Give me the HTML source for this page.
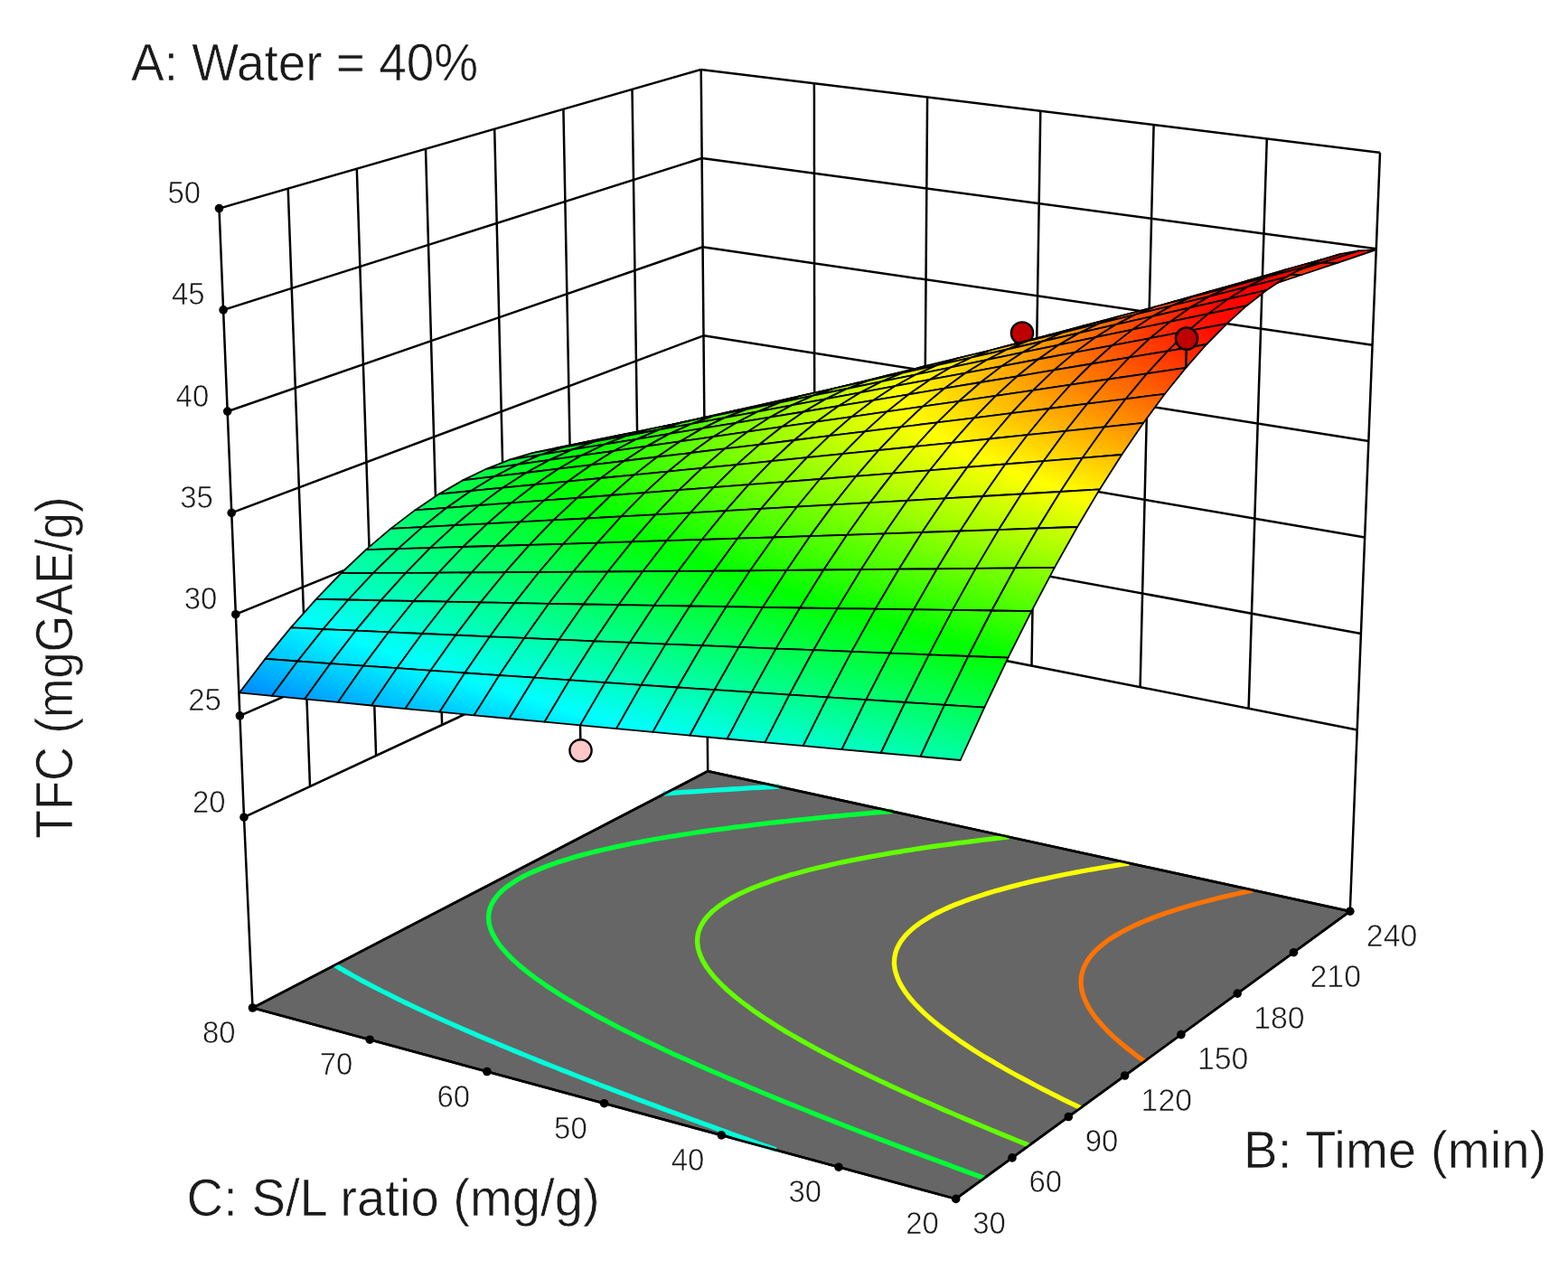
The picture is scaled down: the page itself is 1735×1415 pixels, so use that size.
<!DOCTYPE html>
<html lang="en"><head><meta charset="utf-8"><title>TFC response surface</title>
<style>html,body{margin:0;padding:0;background:#fff}body{width:1735px;height:1415px;overflow:hidden}svg{display:block}</style>
</head><body>
<svg width="1735" height="1415" viewBox="0 0 1735 1415">
<rect width="1735" height="1415" fill="#fff"/>
<g stroke-linecap="butt" fill="none">
<line x1="270" y1="904.2" x2="781.3" y2="665.7" stroke="#000" stroke-width="2.5"/>
<line x1="265.4" y1="791.9" x2="780.4" y2="567.6" stroke="#000" stroke-width="2.5"/>
<line x1="260.8" y1="679.7" x2="779.4" y2="469.4" stroke="#000" stroke-width="2.5"/>
<line x1="256.2" y1="567.4" x2="778.5" y2="371.3" stroke="#000" stroke-width="2.5"/>
<line x1="251.7" y1="455.1" x2="777.6" y2="273.2" stroke="#000" stroke-width="2.5"/>
<line x1="247.1" y1="342.9" x2="776.6" y2="175" stroke="#000" stroke-width="2.5"/>
<line x1="242.5" y1="230.6" x2="775.7" y2="76.9" stroke="#000" stroke-width="2.5"/>
<line x1="270" y1="904.2" x2="242.5" y2="230.6" stroke="#000" stroke-width="2.5"/>
<line x1="343" y1="870.1" x2="318.7" y2="208.6" stroke="#000" stroke-width="2.5"/>
<line x1="416.1" y1="836.1" x2="394.8" y2="186.7" stroke="#000" stroke-width="2.5"/>
<line x1="489.1" y1="802" x2="471" y2="164.7" stroke="#000" stroke-width="2.5"/>
<line x1="562.2" y1="767.9" x2="547.2" y2="142.8" stroke="#000" stroke-width="2.5"/>
<line x1="635.2" y1="733.8" x2="623.4" y2="120.8" stroke="#000" stroke-width="2.5"/>
<line x1="708.3" y1="699.8" x2="699.5" y2="98.9" stroke="#000" stroke-width="2.5"/>
<line x1="781.3" y1="665.7" x2="775.7" y2="76.9" stroke="#000" stroke-width="2.5"/>
<line x1="781.3" y1="665.7" x2="1501.7" y2="807.4" stroke="#000" stroke-width="2.5"/>
<line x1="780.4" y1="567.6" x2="1505.9" y2="701" stroke="#000" stroke-width="2.5"/>
<line x1="779.4" y1="469.4" x2="1510.1" y2="594.5" stroke="#000" stroke-width="2.5"/>
<line x1="778.5" y1="371.3" x2="1514.3" y2="488.1" stroke="#000" stroke-width="2.5"/>
<line x1="777.6" y1="273.2" x2="1518.6" y2="381.7" stroke="#000" stroke-width="2.5"/>
<line x1="776.6" y1="175" x2="1522.8" y2="275.2" stroke="#000" stroke-width="2.5"/>
<line x1="775.7" y1="76.9" x2="1527" y2="168.8" stroke="#000" stroke-width="2.5"/>
<line x1="901.4" y1="689.3" x2="900.9" y2="92.2" stroke="#000" stroke-width="2.5"/>
<line x1="1021.4" y1="712.9" x2="1026.1" y2="107.5" stroke="#000" stroke-width="2.5"/>
<line x1="1141.5" y1="736.5" x2="1151.3" y2="122.9" stroke="#000" stroke-width="2.5"/>
<line x1="1261.6" y1="760.2" x2="1276.6" y2="138.2" stroke="#000" stroke-width="2.5"/>
<line x1="1381.6" y1="783.8" x2="1401.8" y2="153.5" stroke="#000" stroke-width="2.5"/>
<line x1="1501.7" y1="807.4" x2="1527" y2="168.8" stroke="#000" stroke-width="2.5"/>
<line x1="270" y1="904.2" x2="279.5" y2="1115" stroke="#000" stroke-width="2.5"/>
<line x1="781.3" y1="665.7" x2="783.2" y2="853.2" stroke="#000" stroke-width="2.5"/>
<line x1="1501.7" y1="807.4" x2="1493.8" y2="1008.2" stroke="#000" stroke-width="2.5"/>
</g>
<polygon points="279.5,1115 1057.7,1326.4 1493.8,1008.2 783.2,853.2" fill="#666666" stroke="#000" stroke-width="2.6" stroke-linejoin="miter"/>
<g fill="none" stroke-width="5.3" stroke-linecap="butt">
<polyline stroke="#00ffda" points="370.7,1068 376.5,1071.4 379.9,1073.4 385.2,1076.4 389.4,1078.8 394.4,1081.5 399,1084.1 404.2,1086.9 408.9,1089.3 414.7,1092.3 418.9,1094.5 425.7,1098 429.2,1099.7 436.1,1103.2 439.5,1104.9 446.6,1108.3 450.1,1110 457.2,1113.4 463.4,1116.3 468,1118.4 475.3,1121.8 478.9,1123.5 486.3,1126.8 492.4,1129.6 497.5,1131.9 505,1135.2 508.8,1136.9 516.4,1140.2 524,1143.5 527.9,1145.2 535.6,1148.5 542.8,1151.5 547.3,1153.4 555.2,1156.7 561.6,1159.4 567.1,1161.7 575.1,1165 581.6,1167.6 587.1,1169.9 595.3,1173.2 602.7,1176.2 607.5,1178.1 615.7,1181.4 624,1184.7 628.2,1186.3 636.5,1189.6 644.9,1192.9 649.1,1194.5 657.5,1197.8 666,1201.1 673.7,1204 678.8,1206 687.4,1209.3 696.1,1212.5 700.4,1214.2 709.1,1217.5 717.9,1220.7 726.7,1224 731.1,1225.7 739.9,1229 748.8,1232.3 757.7,1235.6 762.2,1237.2 771.2,1240.5 780.2,1243.8 789.3,1247.1 793.9,1248.8 803,1252.1 812.2,1255.4 821.4,1258.7 826,1260.3 835.2,1263.7 844.5,1267 853.9,1270.3 858.7,1272 858.7,1272"/>
<polyline stroke="#00ffda" points="733.8,878.1 740.6,877.6 747.4,877.2 754.2,876.7 761,876.2 767.7,875.8 774.4,875.3 781.6,874.8 788.8,874.4 796,873.9 803.3,873.5 810.6,873 817.9,872.6 825.2,872.1 832.6,871.7 840,871.3 847.3,870.8 853.8,870.5 860.4,870.1 862.2,870"/>
<polyline stroke="#00ff37" points="987.4,897.5 980.5,898.1 973.7,898.7 966.8,899.2 960,899.8 953.1,900.4 946,901.1 938.9,901.7 931.8,902.3 924.7,903 917.5,903.7 910.3,904.4 903.1,905.1 895.8,905.8 888.5,906.6 881.1,907.3 873.8,908.1 867.4,908.8 861,909.5 854.7,910.2 848.3,910.9 842,911.7 835.8,912.4 828.5,913.3 820.7,914.3 812.9,915.2 805,916.3 799,917.1 793,917.9 787,918.7 781,919.5 772.8,920.7 764.5,922 757.9,923 752.2,923.9 746.5,924.8 738.8,926 730,927.5 724.3,928.5 718.9,929.5 711.8,930.8 702.9,932.5 697.7,933.5 692.5,934.6 682.7,936.6 677.4,937.8 672.2,939 662.8,941.2 658,942.3 649.7,944.5 644.1,945.9 637,947.9 630.9,949.7 622.8,952.2 618.3,953.6 610.3,956.4 605,958.3 598.9,960.7 591.8,963.7 585,966.7 578.6,969.9 572.6,973.3 567.1,976.7 562,980.2 559,982.5 555.2,985.8 551.3,989.7 549.6,991.8 546.8,995.6 545.3,998 544,1000.4 542.3,1004.6 541.6,1007 541.1,1009.4 540.7,1012.2 540.6,1015.6 540.8,1018.9 541.3,1021.9 541.9,1024.6 542.8,1027.3 543.8,1030.1 545.1,1033 546.6,1035.9 548.3,1038.9 550,1041.4 551.7,1044 553.6,1046.5 555.5,1048.9 557.9,1051.6 560.9,1055 564.2,1058.3 566.5,1060.6 568.9,1062.9 571.9,1065.6 576.2,1069.4 579,1071.7 581.7,1073.8 585.8,1077.1 589.9,1080.2 592.7,1082.3 596.8,1085.2 601.5,1088.4 604.4,1090.5 609.4,1093.8 613.6,1096.5 616.7,1098.5 623,1102.4 626.2,1104.4 631.5,1107.6 636,1110.2 639.8,1112.5 646,1116 649.4,1117.9 656.2,1121.7 659.7,1123.6 666.7,1127.3 670.2,1129.2 677.3,1132.9 680.9,1134.8 688.1,1138.5 691.8,1140.3 699.1,1144 702.8,1145.8 710.3,1149.5 714,1151.3 721.6,1154.9 725.7,1156.9 733.1,1160.4 739.3,1163.3 744.7,1165.8 752.5,1169.3 756.5,1171.1 764.4,1174.7 768.6,1176.6 776.4,1180.1 784.5,1183.6 788.5,1185.4 796.7,1188.9 801.2,1190.9 809,1194.2 817.3,1197.8 821.5,1199.5 829.9,1203.1 837.2,1206.1 842.5,1208.4 851,1211.9 856.6,1214.2 863.9,1217.2 872.5,1220.7 877.1,1222.5 885.6,1225.9 894.3,1229.4 898.7,1231.2 907.5,1234.7 916.4,1238.2 921.2,1240.1 929.8,1243.5 938.8,1247 945,1249.4 952.4,1252.2 961.5,1255.7 970.1,1259 975.3,1261 984.5,1264.5 993.8,1268 998.4,1269.8 1007.8,1273.3 1017.1,1276.8 1024.3,1279.5 1031.3,1282.1 1040.8,1285.6 1050.3,1289.1 1055.1,1290.9 1064.7,1294.4 1074.3,1298 1084,1301.5 1088.9,1303.3 1088.9,1303.3"/>
<polyline stroke="#62ff00" points="1116.3,925.9 1109.9,926.6 1103.6,927.3 1097.4,928.1 1090.3,928.9 1082.7,929.8 1075,930.8 1067.3,931.8 1060.5,932.7 1054.4,933.5 1048.4,934.3 1042.5,935.1 1035.9,936 1027.9,937.2 1019.8,938.4 1013.2,939.4 1007.5,940.3 1001.8,941.2 995,942.3 986.5,943.7 979.5,944.9 974,945.8 968.6,946.8 960.2,948.3 952.6,949.8 947.3,950.8 941.9,951.9 932.3,953.9 926.8,955 921.8,956.1 912.5,958.3 907.2,959.5 902,960.8 893.1,963 888.5,964.2 879.5,966.7 875.1,967.9 866.6,970.5 862.3,971.8 854.1,974.5 850.1,975.9 842.3,978.7 834.9,981.6 831.3,983 824.3,986.1 817.7,989.2 811.5,992.4 805.6,995.8 800.1,999.2 795,1002.8 790.4,1006.5 788.2,1008.3 784.3,1012.2 781.1,1015.8 779.2,1018.3 777,1021.8 775.4,1024.7 774.4,1027 772.8,1031.4 772.3,1033.8 771.9,1036.2 771.6,1039.6 771.7,1043.3 772,1046.2 772.4,1048.8 773.1,1051.5 773.9,1054.2 774.9,1057 776.2,1059.8 777.6,1062.7 779.3,1065.7 781.1,1068.7 783.2,1071.8 785.6,1075 788.1,1078.2 790.9,1081.5 793.3,1084 795.6,1086.5 798.1,1089 801,1091.8 804.9,1095.4 808.5,1098.5 811.2,1100.9 814,1103.2 818.4,1106.7 822.7,1110 825.7,1112.2 829,1114.7 834.8,1118.8 838,1121 841.2,1123.2 847.4,1127.4 850.9,1129.6 854.3,1131.8 860.9,1135.9 864.3,1138 869.3,1141.1 874.7,1144.2 878.2,1146.3 885.3,1150.4 888.9,1152.4 895.1,1155.8 899.8,1158.4 904.6,1161 910.9,1164.4 914.7,1166.4 922.3,1170.4 926.1,1172.3 933.8,1176.2 937.6,1178.2 945.5,1182.1 949.4,1184 957.3,1187.9 961.3,1189.8 969.3,1193.7 973.4,1195.6 981.5,1199.4 986.1,1201.6 993.9,1205.2 1000.2,1208.1 1006.3,1210.9 1014.7,1214.7 1019,1216.6 1027.5,1220.3 1031.7,1222.2 1040.3,1226 1046.5,1228.7 1053.3,1231.6 1062.1,1235.4 1066.5,1237.3 1075.3,1241 1081.2,1243.5 1088.6,1246.6 1097.6,1250.4 1102.1,1252.2 1111.1,1256 1119.3,1259.3 1124.8,1261.6 1134,1265.3 1138.6,1267.2"/>
<polyline stroke="#f8ff00" points="1249.3,955.1 1243.6,956 1237.9,956.9 1232.2,957.8 1224.5,959.1 1216.2,960.5 1210,961.6 1204.6,962.5 1199.1,963.5 1190.4,965.1 1183.2,966.5 1178,967.5 1172.6,968.6 1163.4,970.5 1157.6,971.8 1152.6,972.8 1144.4,974.7 1137.9,976.2 1133.1,977.3 1124.2,979.6 1119.1,980.9 1113.5,982.4 1105.5,984.6 1101.1,985.8 1092.5,988.4 1088.3,989.7 1080.1,992.4 1076.1,993.7 1068.3,996.5 1061.9,998.9 1057.1,1000.8 1050,1003.8 1043.2,1006.9 1039.9,1008.5 1033.6,1011.7 1027.7,1015 1022.1,1018.4 1016.9,1021.9 1012.1,1025.5 1009.8,1027.4 1005.6,1031.2 1001.8,1035.1 1000,1037.3 997,1041.2 995.1,1044.3 993.4,1047.6 992.3,1050 990.8,1054.4 990.3,1056.7 989.8,1059.6 989.5,1063.9 989.5,1066.5 989.8,1069 990.1,1071.7 990.9,1075.3 992,1078.7 993.2,1082.1 994.6,1085.3 996,1088.2 997.7,1091.1 999.5,1094.1 1001.6,1097.2 1003.8,1100.3 1006.1,1103.3 1008.4,1106.1 1010.8,1108.8 1013.3,1111.5 1015.9,1114.2 1018.6,1116.9 1022.3,1120.5 1026.3,1124.1 1029.6,1127 1032.5,1129.5 1035.5,1131.9 1039.8,1135.3 1044.8,1139.2 1047.9,1141.5 1051.1,1143.9 1056,1147.3 1061,1150.9 1064.4,1153.2 1068.3,1155.8 1074.7,1160 1078.2,1162.2 1082.1,1164.7 1088.9,1168.9 1092.6,1171.1 1097.4,1173.9 1103.6,1177.6 1107.4,1179.8 1114.2,1183.7 1118.7,1186.2 1123.2,1188.7 1130.4,1192.6 1134.3,1194.7 1142.2,1198.9 1146.2,1201 1153.1,1204.6 1158.2,1207.2 1163.9,1210.1 1170.5,1213.4 1175.3,1215.8 1183,1219.6 1187.3,1221.7 1195.6,1225.7 1195.6,1225.7"/>
<polyline stroke="#ff7300" points="1385.9,985.1 1380.8,986.2 1373.1,987.8 1365.8,989.5 1360.9,990.6 1354.4,992.1 1346.5,994 1341.8,995.2 1334.7,997 1328,998.8 1323.5,1000 1314.7,1002.5 1310.4,1003.8 1302.1,1006.3 1297.8,1007.7 1289.8,1010.3 1285.7,1011.8 1278,1014.6 1274.2,1016 1266.9,1018.9 1260.1,1021.8 1256.4,1023.4 1249.8,1026.6 1243.5,1029.8 1237.6,1033.1 1231.9,1036.4 1229.2,1038.2 1225.9,1040.4 1221.7,1043.5 1217.2,1047.2 1213,1051 1209.3,1054.9 1207.3,1057.3 1204.4,1061 1201.8,1065.2 1200.7,1067.4 1198.8,1071.7 1198,1074.1 1197.1,1077.3 1196.4,1081.1 1196.2,1083.5 1196.1,1086.8 1196.3,1091 1196.7,1093.6 1197.2,1096.2 1197.9,1099 1199.1,1102.7 1200.6,1106.3 1202.2,1109.8 1203.8,1112.9 1205.5,1115.9 1207.4,1118.9 1209.5,1122 1211.8,1125.1 1214.3,1128.3 1217.1,1131.5 1219.9,1134.7 1222.6,1137.5 1225.3,1140.3 1228.1,1143.1 1231,1145.9 1234.1,1148.7 1238.2,1152.3 1242.6,1156 1246.4,1159.1 1249.6,1161.7 1252.9,1164.2 1257.3,1167.6 1262.8,1171.6 1266.5,1174.2 1266.5,1174.2"/>
</g>
<polygon points="279.5,1115 1057.7,1326.4 1493.8,1008.2 783.2,853.2" fill="none" stroke="#000" stroke-width="2.6"/>
<line x1="1131" y1="368.5" x2="1130.4" y2="407.5" stroke="#000" stroke-width="2.5"/><circle cx="1131" cy="368.5" r="12.1" fill="#be0000" stroke="#000" stroke-width="2.4"/>
<line x1="642.5" y1="830.3" x2="642" y2="802.4" stroke="#000" stroke-width="2.5"/><circle cx="642.5" cy="830.3" r="12.1" fill="#ffc8c8" stroke="#000" stroke-width="2.4"/>
<defs><linearGradient id="g0" gradientUnits="userSpaceOnUse" x1="785.8" y1="522.9" x2="785" y2="502.6"><stop offset="0%" stop-color="#00c0ff"/><stop offset="70.8%" stop-color="#00ffff"/><stop offset="100%" stop-color="#00ffe5"/></linearGradient><linearGradient id="g1" gradientUnits="userSpaceOnUse" x1="819.4" y1="511.9" x2="818.6" y2="492.1"><stop offset="0%" stop-color="#00eaff"/><stop offset="24.3%" stop-color="#00ffff"/><stop offset="100%" stop-color="#00ffbc"/></linearGradient><linearGradient id="g2" gradientUnits="userSpaceOnUse" x1="763.1" y1="512.5" x2="762.2" y2="494.9"><stop offset="0%" stop-color="#00f1ff"/><stop offset="17.2%" stop-color="#00ffff"/><stop offset="100%" stop-color="#00ffbb"/></linearGradient><linearGradient id="g3" gradientUnits="userSpaceOnUse" x1="853.4" y1="500.8" x2="852.5" y2="481.4"><stop offset="0%" stop-color="#00ffea"/><stop offset="100%" stop-color="#00ff94"/></linearGradient><linearGradient id="g4" gradientUnits="userSpaceOnUse" x1="796.9" y1="502" x2="795.9" y2="484.9"><stop offset="0%" stop-color="#00ffe5"/><stop offset="100%" stop-color="#00ff94"/></linearGradient><linearGradient id="g5" gradientUnits="userSpaceOnUse" x1="740" y1="504.2" x2="739" y2="489.3"><stop offset="0%" stop-color="#00ffe1"/><stop offset="100%" stop-color="#00ff96"/></linearGradient><linearGradient id="g6" gradientUnits="userSpaceOnUse" x1="887.8" y1="489.5" x2="886.8" y2="470.6"><stop offset="0%" stop-color="#00ffc0"/><stop offset="100%" stop-color="#00ff6b"/></linearGradient><linearGradient id="g7" gradientUnits="userSpaceOnUse" x1="831" y1="491.4" x2="830" y2="474.8"><stop offset="0%" stop-color="#00ffbc"/><stop offset="100%" stop-color="#00ff6d"/></linearGradient><linearGradient id="g8" gradientUnits="userSpaceOnUse" x1="773.9" y1="494.2" x2="772.9" y2="479.9"><stop offset="0%" stop-color="#00ffbb"/><stop offset="100%" stop-color="#00ff71"/></linearGradient><linearGradient id="g9" gradientUnits="userSpaceOnUse" x1="922.6" y1="478.1" x2="921.5" y2="459.7"><stop offset="0%" stop-color="#00ff96"/><stop offset="100%" stop-color="#00ff43"/></linearGradient><linearGradient id="g10" gradientUnits="userSpaceOnUse" x1="716.5" y1="497.9" x2="715.6" y2="486"><stop offset="0%" stop-color="#00ffbb"/><stop offset="100%" stop-color="#00ff77"/></linearGradient><linearGradient id="g11" gradientUnits="userSpaceOnUse" x1="865.6" y1="480.6" x2="864.5" y2="464.5"><stop offset="0%" stop-color="#00ff94"/><stop offset="100%" stop-color="#00ff46"/></linearGradient><linearGradient id="g12" gradientUnits="userSpaceOnUse" x1="808.2" y1="484.1" x2="807.2" y2="470.3"><stop offset="0%" stop-color="#00ff94"/><stop offset="100%" stop-color="#00ff4b"/></linearGradient><linearGradient id="g13" gradientUnits="userSpaceOnUse" x1="957.7" y1="466.6" x2="956.6" y2="448.6"><stop offset="0%" stop-color="#00ff6c"/><stop offset="100%" stop-color="#00ff1a"/></linearGradient><linearGradient id="g14" gradientUnits="userSpaceOnUse" x1="750.6" y1="488.4" x2="749.6" y2="477.1"><stop offset="0%" stop-color="#00ff96"/><stop offset="100%" stop-color="#00ff53"/></linearGradient><linearGradient id="g15" gradientUnits="userSpaceOnUse" x1="900.5" y1="469.7" x2="899.3" y2="454.2"><stop offset="0%" stop-color="#00ff6b"/><stop offset="100%" stop-color="#00ff1f"/></linearGradient><linearGradient id="g16" gradientUnits="userSpaceOnUse" x1="692.7" y1="493.8" x2="691.8" y2="484.8"><stop offset="0%" stop-color="#00ff9a"/><stop offset="100%" stop-color="#00ff5d"/></linearGradient><linearGradient id="g17" gradientUnits="userSpaceOnUse" x1="842.9" y1="473.8" x2="841.8" y2="460.7"><stop offset="0%" stop-color="#00ff6d"/><stop offset="100%" stop-color="#00ff26"/></linearGradient><linearGradient id="g18" gradientUnits="userSpaceOnUse" x1="993.2" y1="454.9" x2="992" y2="437.5"><stop offset="0%" stop-color="#00ff41"/><stop offset="81.6%" stop-color="#00ff00"/><stop offset="100%" stop-color="#0fff00"/></linearGradient><linearGradient id="g19" gradientUnits="userSpaceOnUse" x1="785.1" y1="478.9" x2="784.1" y2="468.2"><stop offset="0%" stop-color="#00ff71"/><stop offset="100%" stop-color="#00ff2f"/></linearGradient><linearGradient id="g20" gradientUnits="userSpaceOnUse" x1="935.7" y1="458.7" x2="934.6" y2="443.7"><stop offset="0%" stop-color="#00ff43"/><stop offset="89%" stop-color="#00ff00"/><stop offset="100%" stop-color="#08ff00"/></linearGradient><linearGradient id="g21" gradientUnits="userSpaceOnUse" x1="726.9" y1="484.9" x2="726" y2="476.6"><stop offset="0%" stop-color="#00ff77"/><stop offset="100%" stop-color="#00ff3b"/></linearGradient><linearGradient id="g22" gradientUnits="userSpaceOnUse" x1="878" y1="463.5" x2="876.8" y2="450.9"><stop offset="0%" stop-color="#00ff46"/><stop offset="100%" stop-color="#00ff01"/></linearGradient><linearGradient id="g23" gradientUnits="userSpaceOnUse" x1="1029.1" y1="443" x2="1027.9" y2="426.2"><stop offset="0%" stop-color="#00ff17"/><stop offset="29.5%" stop-color="#00ff00"/><stop offset="100%" stop-color="#38ff00"/></linearGradient><linearGradient id="g24" gradientUnits="userSpaceOnUse" x1="668.5" y1="491.8" x2="667.8" y2="486"><stop offset="0%" stop-color="#00ff7f"/><stop offset="100%" stop-color="#00ff49"/></linearGradient><linearGradient id="g25" gradientUnits="userSpaceOnUse" x1="819.9" y1="469.2" x2="818.9" y2="459.1"><stop offset="0%" stop-color="#00ff4b"/><stop offset="100%" stop-color="#00ff0c"/></linearGradient><linearGradient id="g26" gradientUnits="userSpaceOnUse" x1="971.4" y1="447.5" x2="970.2" y2="433.1"><stop offset="0%" stop-color="#00ff1a"/><stop offset="35.3%" stop-color="#00ff00"/><stop offset="100%" stop-color="#2fff00"/></linearGradient><linearGradient id="g27" gradientUnits="userSpaceOnUse" x1="761.5" y1="475.9" x2="760.6" y2="468.3"><stop offset="0%" stop-color="#00ff53"/><stop offset="100%" stop-color="#00ff19"/></linearGradient><linearGradient id="g28" gradientUnits="userSpaceOnUse" x1="913.4" y1="453" x2="912.2" y2="441"><stop offset="0%" stop-color="#00ff1f"/><stop offset="45.5%" stop-color="#00ff00"/><stop offset="100%" stop-color="#25ff00"/></linearGradient><linearGradient id="g29" gradientUnits="userSpaceOnUse" x1="1065.4" y1="431" x2="1064.1" y2="414.7"><stop offset="0%" stop-color="#13ff00"/><stop offset="100%" stop-color="#60ff00"/></linearGradient><linearGradient id="g30" gradientUnits="userSpaceOnUse" x1="702.8" y1="483.5" x2="702.1" y2="478.4"><stop offset="0%" stop-color="#00ff5d"/><stop offset="100%" stop-color="#00ff28"/></linearGradient><linearGradient id="g31" gradientUnits="userSpaceOnUse" x1="855.1" y1="459.4" x2="854" y2="449.9"><stop offset="0%" stop-color="#00ff26"/><stop offset="61%" stop-color="#00ff00"/><stop offset="100%" stop-color="#18ff00"/></linearGradient><linearGradient id="g32" gradientUnits="userSpaceOnUse" x1="1007.5" y1="436.2" x2="1006.2" y2="422.4"><stop offset="0%" stop-color="#0fff00"/><stop offset="100%" stop-color="#56ff00"/></linearGradient><linearGradient id="g33" gradientUnits="userSpaceOnUse" x1="643.9" y1="492.2" x2="643.5" y2="489.6"><stop offset="0%" stop-color="#00ff69"/><stop offset="100%" stop-color="#00ff3a"/></linearGradient><linearGradient id="g34" gradientUnits="userSpaceOnUse" x1="796.5" y1="466.8" x2="795.6" y2="459.8"><stop offset="0%" stop-color="#00ff2f"/><stop offset="83.4%" stop-color="#00ff00"/><stop offset="100%" stop-color="#09ff00"/></linearGradient><linearGradient id="g35" gradientUnits="userSpaceOnUse" x1="949.2" y1="442.3" x2="948" y2="431"><stop offset="0%" stop-color="#08ff00"/><stop offset="100%" stop-color="#4aff00"/></linearGradient><linearGradient id="g36" gradientUnits="userSpaceOnUse" x1="1102.1" y1="418.9" x2="1100.8" y2="403.1"><stop offset="0%" stop-color="#3dff00"/><stop offset="100%" stop-color="#89ff00"/></linearGradient><linearGradient id="g37" gradientUnits="userSpaceOnUse" x1="737.6" y1="475.1" x2="736.9" y2="470.7"><stop offset="0%" stop-color="#00ff3b"/><stop offset="100%" stop-color="#00ff08"/></linearGradient><linearGradient id="g38" gradientUnits="userSpaceOnUse" x1="890.7" y1="449.5" x2="889.6" y2="440.7"><stop offset="0%" stop-color="#00ff01"/><stop offset="0.9%" stop-color="#00ff00"/><stop offset="100%" stop-color="#3cff00"/></linearGradient><linearGradient id="g39" gradientUnits="userSpaceOnUse" x1="1043.9" y1="424.7" x2="1042.6" y2="411.5"><stop offset="0%" stop-color="#38ff00"/><stop offset="100%" stop-color="#7eff00"/></linearGradient><linearGradient id="g40" gradientUnits="userSpaceOnUse" x1="678.3" y1="484.5" x2="678" y2="482.6"><stop offset="0%" stop-color="#00ff49"/><stop offset="100%" stop-color="#00ff1b"/></linearGradient><linearGradient id="g41" gradientUnits="userSpaceOnUse" x1="831.8" y1="457.5" x2="830.9" y2="451.3"><stop offset="0%" stop-color="#00ff0c"/><stop offset="20.9%" stop-color="#00ff00"/><stop offset="100%" stop-color="#2cff00"/></linearGradient><linearGradient id="g42" gradientUnits="userSpaceOnUse" x1="985.4" y1="431.6" x2="984.2" y2="420.9"><stop offset="0%" stop-color="#2fff00"/><stop offset="100%" stop-color="#70ff00"/></linearGradient><linearGradient id="g43" gradientUnits="userSpaceOnUse" x1="618.7" y1="494.6" x2="619" y2="495.8"><stop offset="0%" stop-color="#00ff59"/><stop offset="100%" stop-color="#00ff31"/></linearGradient><linearGradient id="g44" gradientUnits="userSpaceOnUse" x1="1139.3" y1="406.6" x2="1137.8" y2="391.4"><stop offset="0%" stop-color="#68ff00"/><stop offset="100%" stop-color="#b2ff00"/></linearGradient><linearGradient id="g45" gradientUnits="userSpaceOnUse" x1="772.6" y1="466.6" x2="772" y2="463"><stop offset="0%" stop-color="#00ff19"/><stop offset="49.9%" stop-color="#00ff00"/><stop offset="100%" stop-color="#19ff00"/></linearGradient><linearGradient id="g46" gradientUnits="userSpaceOnUse" x1="926.6" y1="439.4" x2="925.6" y2="431.3"><stop offset="0%" stop-color="#25ff00"/><stop offset="100%" stop-color="#60ff00"/></linearGradient><linearGradient id="g47" gradientUnits="userSpaceOnUse" x1="1080.8" y1="413.1" x2="1079.5" y2="400.5"><stop offset="0%" stop-color="#60ff00"/><stop offset="100%" stop-color="#a5ff00"/></linearGradient><linearGradient id="g48" gradientUnits="userSpaceOnUse" x1="713.2" y1="476.7" x2="712.9" y2="475.5"><stop offset="0%" stop-color="#00ff28"/><stop offset="91.2%" stop-color="#00ff00"/><stop offset="100%" stop-color="#04ff00"/></linearGradient><linearGradient id="g49" gradientUnits="userSpaceOnUse" x1="867.5" y1="448.2" x2="866.7" y2="442.7"><stop offset="0%" stop-color="#18ff00"/><stop offset="100%" stop-color="#4eff00"/></linearGradient><linearGradient id="g50" gradientUnits="userSpaceOnUse" x1="1022.1" y1="420.7" x2="1020.8" y2="410.6"><stop offset="0%" stop-color="#56ff00"/><stop offset="100%" stop-color="#95ff00"/></linearGradient><linearGradient id="g51" gradientUnits="userSpaceOnUse" x1="653.3" y1="487.5" x2="653.7" y2="489.4"><stop offset="0%" stop-color="#00ff3a"/><stop offset="100%" stop-color="#00ff13"/></linearGradient><linearGradient id="g52" gradientUnits="userSpaceOnUse" x1="1176.8" y1="394.1" x2="1175.3" y2="379.5"><stop offset="0%" stop-color="#92ff00"/><stop offset="100%" stop-color="#dbff00"/></linearGradient><linearGradient id="g53" gradientUnits="userSpaceOnUse" x1="808.1" y1="458" x2="807.6" y2="455.1"><stop offset="0%" stop-color="#09ff00"/><stop offset="100%" stop-color="#39ff00"/></linearGradient><linearGradient id="g54" gradientUnits="userSpaceOnUse" x1="593.1" y1="499.6" x2="594.4" y2="504.1"><stop offset="0%" stop-color="#00ff4e"/><stop offset="100%" stop-color="#00ff2d"/></linearGradient><linearGradient id="g55" gradientUnits="userSpaceOnUse" x1="963" y1="429.2" x2="961.9" y2="421.8"><stop offset="0%" stop-color="#4aff00"/><stop offset="100%" stop-color="#84ff00"/></linearGradient><linearGradient id="g56" gradientUnits="userSpaceOnUse" x1="1118.1" y1="401.4" x2="1116.7" y2="389.4"><stop offset="0%" stop-color="#89ff00"/><stop offset="100%" stop-color="#ccff00"/></linearGradient><linearGradient id="g57" gradientUnits="userSpaceOnUse" x1="748.5" y1="469.8" x2="748.1" y2="467.4"><stop offset="0%" stop-color="#00ff08"/><stop offset="18.1%" stop-color="#00ff00"/><stop offset="100%" stop-color="#23ff00"/></linearGradient><linearGradient id="g58" gradientUnits="userSpaceOnUse" x1="903.6" y1="438.7" x2="902.8" y2="433.9"><stop offset="0%" stop-color="#3cff00"/><stop offset="100%" stop-color="#70ff00"/></linearGradient><linearGradient id="g59" gradientUnits="userSpaceOnUse" x1="688.2" y1="480.4" x2="688.9" y2="483.1"><stop offset="0%" stop-color="#00ff1b"/><stop offset="73%" stop-color="#00ff00"/><stop offset="100%" stop-color="#0aff00"/></linearGradient><linearGradient id="g60" gradientUnits="userSpaceOnUse" x1="1059.1" y1="409.6" x2="1057.9" y2="400.3"><stop offset="0%" stop-color="#7eff00"/><stop offset="100%" stop-color="#bbff00"/></linearGradient><linearGradient id="g61" gradientUnits="userSpaceOnUse" x1="1214.8" y1="381.5" x2="1213.3" y2="367.5"><stop offset="0%" stop-color="#bdff00"/><stop offset="93.6%" stop-color="#ffff00"/><stop offset="100%" stop-color="#fffa00"/></linearGradient><linearGradient id="g62" gradientUnits="userSpaceOnUse" x1="843.9" y1="449.2" x2="843.5" y2="447.1"><stop offset="0%" stop-color="#2cff00"/><stop offset="100%" stop-color="#5aff00"/></linearGradient><linearGradient id="g63" gradientUnits="userSpaceOnUse" x1="627.6" y1="493.2" x2="629.3" y2="498.5"><stop offset="0%" stop-color="#00ff31"/><stop offset="100%" stop-color="#00ff11"/></linearGradient><linearGradient id="g64" gradientUnits="userSpaceOnUse" x1="999.7" y1="418.8" x2="998.7" y2="412.2"><stop offset="0%" stop-color="#70ff00"/><stop offset="100%" stop-color="#a8ff00"/></linearGradient><linearGradient id="g65" gradientUnits="userSpaceOnUse" x1="783.8" y1="460.4" x2="784.1" y2="461.6"><stop offset="0%" stop-color="#19ff00"/><stop offset="100%" stop-color="#42ff00"/></linearGradient><linearGradient id="g66" gradientUnits="userSpaceOnUse" x1="1155.8" y1="389.4" x2="1154.4" y2="378.1"><stop offset="0%" stop-color="#b2ff00"/><stop offset="100%" stop-color="#f3ff00"/></linearGradient><linearGradient id="g67" gradientUnits="userSpaceOnUse" x1="566.6" y1="507.1" x2="570.1" y2="515.3"><stop offset="0%" stop-color="#00ff48"/><stop offset="100%" stop-color="#00ff2d"/></linearGradient><linearGradient id="g68" gradientUnits="userSpaceOnUse" x1="940.1" y1="429.1" x2="939.4" y2="425.1"><stop offset="0%" stop-color="#60ff00"/><stop offset="100%" stop-color="#92ff00"/></linearGradient><linearGradient id="g69" gradientUnits="userSpaceOnUse" x1="723.4" y1="473.1" x2="724.4" y2="476.7"><stop offset="0%" stop-color="#04ff00"/><stop offset="100%" stop-color="#27ff00"/></linearGradient><linearGradient id="g70" gradientUnits="userSpaceOnUse" x1="1096.5" y1="398.4" x2="1095.3" y2="389.8"><stop offset="0%" stop-color="#a5ff00"/><stop offset="100%" stop-color="#e1ff00"/></linearGradient><linearGradient id="g71" gradientUnits="userSpaceOnUse" x1="880.1" y1="440.4" x2="879.8" y2="439"><stop offset="0%" stop-color="#4eff00"/><stop offset="100%" stop-color="#7bff00"/></linearGradient><linearGradient id="g72" gradientUnits="userSpaceOnUse" x1="1253.2" y1="368.7" x2="1251.6" y2="355.4"><stop offset="0%" stop-color="#e7ff00"/><stop offset="34.4%" stop-color="#ffff00"/><stop offset="100%" stop-color="#ffd200"/></linearGradient><linearGradient id="g73" gradientUnits="userSpaceOnUse" x1="662.5" y1="486.7" x2="664.8" y2="492.9"><stop offset="0%" stop-color="#00ff13"/><stop offset="64.5%" stop-color="#00ff00"/><stop offset="100%" stop-color="#0bff00"/></linearGradient><linearGradient id="g74" gradientUnits="userSpaceOnUse" x1="1036.9" y1="408.3" x2="1035.9" y2="402.5"><stop offset="0%" stop-color="#95ff00"/><stop offset="100%" stop-color="#ccff00"/></linearGradient><linearGradient id="g75" gradientUnits="userSpaceOnUse" x1="819.7" y1="452.4" x2="820.2" y2="454.2"><stop offset="0%" stop-color="#39ff00"/><stop offset="100%" stop-color="#61ff00"/></linearGradient><linearGradient id="g76" gradientUnits="userSpaceOnUse" x1="1193.9" y1="377.4" x2="1192.5" y2="366.7"><stop offset="0%" stop-color="#dbff00"/><stop offset="56.9%" stop-color="#ffff00"/><stop offset="100%" stop-color="#ffe400"/></linearGradient><linearGradient id="g77" gradientUnits="userSpaceOnUse" x1="600.8" y1="500.8" x2="605.7" y2="511.1"><stop offset="0%" stop-color="#00ff2e"/><stop offset="100%" stop-color="#00ff11"/></linearGradient><linearGradient id="g78" gradientUnits="userSpaceOnUse" x1="977" y1="419.3" x2="976.4" y2="416.2"><stop offset="0%" stop-color="#84ff00"/><stop offset="100%" stop-color="#b5ff00"/></linearGradient><linearGradient id="g79" gradientUnits="userSpaceOnUse" x1="759" y1="465.7" x2="760.4" y2="470.2"><stop offset="0%" stop-color="#23ff00"/><stop offset="100%" stop-color="#45ff00"/></linearGradient><linearGradient id="g80" gradientUnits="userSpaceOnUse" x1="536.9" y1="514.7" x2="548.4" y2="531.3"><stop offset="0%" stop-color="#00ff4e"/><stop offset="100%" stop-color="#00ff2e"/></linearGradient><linearGradient id="g81" gradientUnits="userSpaceOnUse" x1="1134.4" y1="387" x2="1133.2" y2="379.2"><stop offset="0%" stop-color="#ccff00"/><stop offset="87.6%" stop-color="#ffff00"/><stop offset="100%" stop-color="#fff800"/></linearGradient><linearGradient id="g82" gradientUnits="userSpaceOnUse" x1="916.8" y1="431.9" x2="916.5" y2="430.4"><stop offset="0%" stop-color="#70ff00"/><stop offset="100%" stop-color="#9bff00"/></linearGradient><linearGradient id="g83" gradientUnits="userSpaceOnUse" x1="1292" y1="355.7" x2="1290.4" y2="343.1"><stop offset="0%" stop-color="#ffec00"/><stop offset="100%" stop-color="#ffa900"/></linearGradient><linearGradient id="g84" gradientUnits="userSpaceOnUse" x1="697.7" y1="480" x2="700.7" y2="487.4"><stop offset="0%" stop-color="#0aff00"/><stop offset="100%" stop-color="#27ff00"/></linearGradient><linearGradient id="g85" gradientUnits="userSpaceOnUse" x1="1074.5" y1="397.7" x2="1073.6" y2="392.6"><stop offset="0%" stop-color="#bbff00"/><stop offset="100%" stop-color="#f0ff00"/></linearGradient><linearGradient id="g86" gradientUnits="userSpaceOnUse" x1="856" y1="444.1" x2="856.7" y2="446.9"><stop offset="0%" stop-color="#5aff00"/><stop offset="100%" stop-color="#80ff00"/></linearGradient><linearGradient id="g87" gradientUnits="userSpaceOnUse" x1="635.1" y1="494.3" x2="642.1" y2="506.9"><stop offset="0%" stop-color="#00ff14"/><stop offset="65.6%" stop-color="#00ff00"/><stop offset="100%" stop-color="#0bff00"/></linearGradient><linearGradient id="g88" gradientUnits="userSpaceOnUse" x1="1232.5" y1="365.1" x2="1231.1" y2="355.2"><stop offset="0%" stop-color="#fffa00"/><stop offset="100%" stop-color="#ffbc00"/></linearGradient><linearGradient id="g89" gradientUnits="userSpaceOnUse" x1="1014.2" y1="409.4" x2="1013.8" y2="407.1"><stop offset="0%" stop-color="#a8ff00"/><stop offset="100%" stop-color="#d7ff00"/></linearGradient><linearGradient id="g90" gradientUnits="userSpaceOnUse" x1="794.9" y1="458.2" x2="796.8" y2="463.7"><stop offset="0%" stop-color="#42ff00"/><stop offset="100%" stop-color="#62ff00"/></linearGradient><linearGradient id="g91" gradientUnits="userSpaceOnUse" x1="569.7" y1="508.9" x2="585.7" y2="528.1"><stop offset="0%" stop-color="#00ff35"/><stop offset="100%" stop-color="#00ff14"/></linearGradient><linearGradient id="g92" gradientUnits="userSpaceOnUse" x1="1172.6" y1="375.5" x2="1171.5" y2="368.4"><stop offset="0%" stop-color="#f3ff00"/><stop offset="20.8%" stop-color="#ffff00"/><stop offset="100%" stop-color="#ffd200"/></linearGradient><linearGradient id="g93" gradientUnits="userSpaceOnUse" x1="953.6" y1="421.8" x2="953.9" y2="423"><stop offset="0%" stop-color="#92ff00"/><stop offset="100%" stop-color="#bcff00"/></linearGradient><linearGradient id="g94" gradientUnits="userSpaceOnUse" x1="733.1" y1="473" x2="737.3" y2="482.2"><stop offset="0%" stop-color="#26ff00"/><stop offset="100%" stop-color="#45ff00"/></linearGradient><linearGradient id="g95" gradientUnits="userSpaceOnUse" x1="1331.3" y1="342.6" x2="1329.7" y2="330.6"><stop offset="0%" stop-color="#ffc200"/><stop offset="100%" stop-color="#ff8000"/></linearGradient><linearGradient id="g96" gradientUnits="userSpaceOnUse" x1="499.5" y1="526.2" x2="534.1" y2="548.4"><stop offset="0%" stop-color="#00ff59"/><stop offset="100%" stop-color="#00ff35"/></linearGradient><linearGradient id="g97" gradientUnits="userSpaceOnUse" x1="1112.4" y1="386.9" x2="1111.6" y2="382.7"><stop offset="0%" stop-color="#e1ff00"/><stop offset="59.4%" stop-color="#ffff00"/><stop offset="100%" stop-color="#ffea00"/></linearGradient><linearGradient id="g98" gradientUnits="userSpaceOnUse" x1="892.6" y1="435.7" x2="893.8" y2="439.5"><stop offset="0%" stop-color="#7bff00"/><stop offset="100%" stop-color="#9fff00"/></linearGradient><linearGradient id="g99" gradientUnits="userSpaceOnUse" x1="669.3" y1="487.6" x2="679.2" y2="502.8"><stop offset="0%" stop-color="#06ff00"/><stop offset="100%" stop-color="#26ff00"/></linearGradient><linearGradient id="g100" gradientUnits="userSpaceOnUse" x1="1271.5" y1="352.7" x2="1270.1" y2="343.5"><stop offset="0%" stop-color="#ffd200"/><stop offset="100%" stop-color="#ff9500"/></linearGradient><linearGradient id="g101" gradientUnits="userSpaceOnUse" x1="1051.9" y1="399.4" x2="1051.6" y2="397.9"><stop offset="0%" stop-color="#ccff00"/><stop offset="100%" stop-color="#f9ff00"/></linearGradient><linearGradient id="g102" gradientUnits="userSpaceOnUse" x1="831.1" y1="450.5" x2="833.7" y2="457.1"><stop offset="0%" stop-color="#61ff00"/><stop offset="100%" stop-color="#80ff00"/></linearGradient><linearGradient id="g103" gradientUnits="userSpaceOnUse" x1="602.1" y1="503.2" x2="624.3" y2="524.6"><stop offset="0%" stop-color="#00ff1d"/><stop offset="83.3%" stop-color="#00ff00"/><stop offset="100%" stop-color="#06ff00"/></linearGradient><linearGradient id="g104" gradientUnits="userSpaceOnUse" x1="1211.3" y1="363.8" x2="1210.2" y2="357.6"><stop offset="0%" stop-color="#ffe400"/><stop offset="100%" stop-color="#ffac00"/></linearGradient><linearGradient id="g105" gradientUnits="userSpaceOnUse" x1="990.9" y1="412.7" x2="991.5" y2="414.6"><stop offset="0%" stop-color="#b5ff00"/><stop offset="100%" stop-color="#ddff00"/></linearGradient><linearGradient id="g106" gradientUnits="userSpaceOnUse" x1="768.5" y1="465.6" x2="774.5" y2="477"><stop offset="0%" stop-color="#42ff00"/><stop offset="100%" stop-color="#62ff00"/></linearGradient><linearGradient id="g107" gradientUnits="userSpaceOnUse" x1="529.8" y1="523.9" x2="574.3" y2="543.1"><stop offset="0%" stop-color="#00ff42"/><stop offset="100%" stop-color="#00ff1d"/></linearGradient><linearGradient id="g108" gradientUnits="userSpaceOnUse" x1="1371" y1="329.3" x2="1369.4" y2="318"><stop offset="0%" stop-color="#ff9700"/><stop offset="100%" stop-color="#ff5700"/></linearGradient><linearGradient id="g109" gradientUnits="userSpaceOnUse" x1="1150.8" y1="376" x2="1150.1" y2="372.6"><stop offset="0%" stop-color="#fff800"/><stop offset="100%" stop-color="#ffc600"/></linearGradient><linearGradient id="g110" gradientUnits="userSpaceOnUse" x1="929.6" y1="427.2" x2="931.2" y2="432"><stop offset="0%" stop-color="#9bff00"/><stop offset="100%" stop-color="#beff00"/></linearGradient><linearGradient id="g111" gradientUnits="userSpaceOnUse" x1="459.3" y1="555.8" x2="522" y2="552.1"><stop offset="0%" stop-color="#00ff69"/><stop offset="100%" stop-color="#00ff42"/></linearGradient><linearGradient id="g112" gradientUnits="userSpaceOnUse" x1="703.4" y1="480.8" x2="717.3" y2="498.7"><stop offset="0%" stop-color="#20ff00"/><stop offset="100%" stop-color="#42ff00"/></linearGradient><linearGradient id="g113" gradientUnits="userSpaceOnUse" x1="1310.9" y1="340.1" x2="1309.6" y2="331.7"><stop offset="0%" stop-color="#ffa900"/><stop offset="100%" stop-color="#ff6e00"/></linearGradient><linearGradient id="g114" gradientUnits="userSpaceOnUse" x1="1090.1" y1="389.7" x2="1089.8" y2="388.3"><stop offset="0%" stop-color="#f0ff00"/><stop offset="34.5%" stop-color="#ffff00"/><stop offset="100%" stop-color="#ffe200"/></linearGradient><linearGradient id="g115" gradientUnits="userSpaceOnUse" x1="867.6" y1="442.7" x2="871.2" y2="450.8"><stop offset="0%" stop-color="#80ff00"/><stop offset="100%" stop-color="#9fff00"/></linearGradient><linearGradient id="g116" gradientUnits="userSpaceOnUse" x1="634" y1="498" x2="664.2" y2="520.4"><stop offset="0%" stop-color="#00ff04"/><stop offset="12.3%" stop-color="#00ff00"/><stop offset="100%" stop-color="#20ff00"/></linearGradient><linearGradient id="g117" gradientUnits="userSpaceOnUse" x1="1250.5" y1="352" x2="1249.4" y2="346.6"><stop offset="0%" stop-color="#ffbc00"/><stop offset="100%" stop-color="#ff8700"/></linearGradient><linearGradient id="g118" gradientUnits="userSpaceOnUse" x1="1028.7" y1="403.3" x2="1029.6" y2="406.1"><stop offset="0%" stop-color="#d7ff00"/><stop offset="100%" stop-color="#feff00"/></linearGradient><linearGradient id="g119" gradientUnits="userSpaceOnUse" x1="560.7" y1="523.3" x2="614.7" y2="535.8"><stop offset="0%" stop-color="#00ff2b"/><stop offset="100%" stop-color="#00ff04"/></linearGradient><linearGradient id="g120" gradientUnits="userSpaceOnUse" x1="803.9" y1="458" x2="812.5" y2="471.9"><stop offset="0%" stop-color="#5eff00"/><stop offset="100%" stop-color="#80ff00"/></linearGradient><linearGradient id="g121" gradientUnits="userSpaceOnUse" x1="1411.2" y1="315.8" x2="1409.6" y2="305.2"><stop offset="0%" stop-color="#ff6d00"/><stop offset="100%" stop-color="#ff2e00"/></linearGradient><linearGradient id="g122" gradientUnits="userSpaceOnUse" x1="1189.7" y1="364.9" x2="1189.1" y2="362.4"><stop offset="0%" stop-color="#ffd200"/><stop offset="100%" stop-color="#ffa200"/></linearGradient><linearGradient id="g123" gradientUnits="userSpaceOnUse" x1="494.2" y1="558.3" x2="557.7" y2="543.2"><stop offset="0%" stop-color="#00ff54"/><stop offset="100%" stop-color="#00ff2b"/></linearGradient><linearGradient id="g124" gradientUnits="userSpaceOnUse" x1="966.9" y1="418.5" x2="969.2" y2="424.4"><stop offset="0%" stop-color="#bcff00"/><stop offset="100%" stop-color="#ddff00"/></linearGradient><linearGradient id="g125" gradientUnits="userSpaceOnUse" x1="737.2" y1="474" x2="756.5" y2="494.4"><stop offset="0%" stop-color="#3aff00"/><stop offset="100%" stop-color="#5eff00"/></linearGradient><linearGradient id="g126" gradientUnits="userSpaceOnUse" x1="1350.8" y1="327.4" x2="1349.5" y2="319.8"><stop offset="0%" stop-color="#ff8000"/><stop offset="100%" stop-color="#ff4600"/></linearGradient><linearGradient id="g127" gradientUnits="userSpaceOnUse" x1="437" y1="591.1" x2="490.6" y2="555.3"><stop offset="0%" stop-color="#00ff7f"/><stop offset="100%" stop-color="#00ff54"/></linearGradient><linearGradient id="g128" gradientUnits="userSpaceOnUse" x1="1128.4" y1="378.5" x2="1128.7" y2="379.8"><stop offset="0%" stop-color="#ffea00"/><stop offset="100%" stop-color="#ffc000"/></linearGradient><linearGradient id="g129" gradientUnits="userSpaceOnUse" x1="665.5" y1="493.9" x2="705.3" y2="514.9"><stop offset="0%" stop-color="#14ff00"/><stop offset="100%" stop-color="#3aff00"/></linearGradient><linearGradient id="g130" gradientUnits="userSpaceOnUse" x1="904.2" y1="434.4" x2="909.4" y2="444.6"><stop offset="0%" stop-color="#9dff00"/><stop offset="100%" stop-color="#beff00"/></linearGradient><linearGradient id="g131" gradientUnits="userSpaceOnUse" x1="1290.1" y1="340" x2="1289.1" y2="335.4"><stop offset="0%" stop-color="#ff9500"/><stop offset="100%" stop-color="#ff6100"/></linearGradient><linearGradient id="g132" gradientUnits="userSpaceOnUse" x1="593.2" y1="524.3" x2="654.2" y2="526.8"><stop offset="0%" stop-color="#00ff14"/><stop offset="50.2%" stop-color="#00ff00"/><stop offset="100%" stop-color="#14ff00"/></linearGradient><linearGradient id="g133" gradientUnits="userSpaceOnUse" x1="1066.8" y1="393.7" x2="1068.1" y2="397.6"><stop offset="0%" stop-color="#f9ff00"/><stop offset="14.9%" stop-color="#ffff00"/><stop offset="100%" stop-color="#ffdf00"/></linearGradient><linearGradient id="g134" gradientUnits="userSpaceOnUse" x1="839.3" y1="450.2" x2="851.4" y2="466.8"><stop offset="0%" stop-color="#7aff00"/><stop offset="100%" stop-color="#9dff00"/></linearGradient><linearGradient id="g135" gradientUnits="userSpaceOnUse" x1="1451.9" y1="302.1" x2="1450.3" y2="292.3"><stop offset="0%" stop-color="#ff4200"/><stop offset="100%" stop-color="#ff0400"/></linearGradient><linearGradient id="g136" gradientUnits="userSpaceOnUse" x1="530.9" y1="560.1" x2="592.2" y2="535.1"><stop offset="0%" stop-color="#00ff3f"/><stop offset="100%" stop-color="#00ff14"/></linearGradient><linearGradient id="g137" gradientUnits="userSpaceOnUse" x1="1228.9" y1="353.7" x2="1228.5" y2="352.1"><stop offset="0%" stop-color="#ffac00"/><stop offset="100%" stop-color="#ff7e00"/></linearGradient><linearGradient id="g138" gradientUnits="userSpaceOnUse" x1="770.5" y1="467.5" x2="797.1" y2="489.6"><stop offset="0%" stop-color="#54ff00"/><stop offset="100%" stop-color="#7aff00"/></linearGradient><linearGradient id="g139" gradientUnits="userSpaceOnUse" x1="1004.6" y1="409.8" x2="1007.7" y2="417"><stop offset="0%" stop-color="#ddff00"/><stop offset="100%" stop-color="#feff00"/></linearGradient><linearGradient id="g140" gradientUnits="userSpaceOnUse" x1="474.7" y1="591" x2="523.7" y2="550.8"><stop offset="0%" stop-color="#00ff6c"/><stop offset="100%" stop-color="#00ff3f"/></linearGradient><linearGradient id="g141" gradientUnits="userSpaceOnUse" x1="1391.2" y1="314.4" x2="1389.9" y2="307.7"><stop offset="0%" stop-color="#ff5700"/><stop offset="100%" stop-color="#ff1f00"/></linearGradient><linearGradient id="g142" gradientUnits="userSpaceOnUse" x1="697.1" y1="491.5" x2="747" y2="507.6"><stop offset="0%" stop-color="#2dff00"/><stop offset="100%" stop-color="#54ff00"/></linearGradient><linearGradient id="g143" gradientUnits="userSpaceOnUse" x1="1167.3" y1="368.2" x2="1167.9" y2="370.2"><stop offset="0%" stop-color="#ffc600"/><stop offset="100%" stop-color="#ff9d00"/></linearGradient><linearGradient id="g144" gradientUnits="userSpaceOnUse" x1="940.9" y1="425.8" x2="948.4" y2="438.5"><stop offset="0%" stop-color="#bbff00"/><stop offset="100%" stop-color="#ddff00"/></linearGradient><linearGradient id="g145" gradientUnits="userSpaceOnUse" x1="417.7" y1="618.1" x2="455.6" y2="572.6"><stop offset="0%" stop-color="#00ff9b"/><stop offset="100%" stop-color="#00ff6c"/></linearGradient><linearGradient id="g146" gradientUnits="userSpaceOnUse" x1="627.9" y1="526" x2="692.1" y2="516.9"><stop offset="0%" stop-color="#03ff00"/><stop offset="100%" stop-color="#2dff00"/></linearGradient><linearGradient id="g147" gradientUnits="userSpaceOnUse" x1="1330.1" y1="327.8" x2="1329.3" y2="324.2"><stop offset="0%" stop-color="#ff6e00"/><stop offset="100%" stop-color="#ff3b00"/></linearGradient><linearGradient id="g148" gradientUnits="userSpaceOnUse" x1="874.4" y1="442.3" x2="891.5" y2="461.6"><stop offset="0%" stop-color="#96ff00"/><stop offset="100%" stop-color="#bbff00"/></linearGradient><linearGradient id="g149" gradientUnits="userSpaceOnUse" x1="1105.3" y1="384" x2="1107.2" y2="389"><stop offset="0%" stop-color="#ffe200"/><stop offset="100%" stop-color="#ffbf00"/></linearGradient><linearGradient id="g150" gradientUnits="userSpaceOnUse" x1="568.9" y1="560.8" x2="626.2" y2="528.1"><stop offset="0%" stop-color="#00ff29"/><stop offset="93.9%" stop-color="#00ff00"/><stop offset="100%" stop-color="#03ff00"/></linearGradient><linearGradient id="g151" gradientUnits="userSpaceOnUse" x1="1493" y1="288.2" x2="1491.5" y2="279.3"><stop offset="0%" stop-color="#ff1700"/><stop offset="100%" stop-color="#ff0000"/></linearGradient><linearGradient id="g152" gradientUnits="userSpaceOnUse" x1="803.2" y1="461.9" x2="839" y2="483.7"><stop offset="0%" stop-color="#6fff00"/><stop offset="100%" stop-color="#96ff00"/></linearGradient><linearGradient id="g153" gradientUnits="userSpaceOnUse" x1="1268.7" y1="342.7" x2="1268.4" y2="341.3"><stop offset="0%" stop-color="#ff8700"/><stop offset="100%" stop-color="#ff5a00"/></linearGradient><linearGradient id="g154" gradientUnits="userSpaceOnUse" x1="1042.4" y1="400.5" x2="1047" y2="409.7"><stop offset="0%" stop-color="#fcff00"/><stop offset="7.4%" stop-color="#ffff00"/><stop offset="100%" stop-color="#ffdf00"/></linearGradient><linearGradient id="g155" gradientUnits="userSpaceOnUse" x1="512.5" y1="590.2" x2="557.4" y2="547"><stop offset="0%" stop-color="#00ff58"/><stop offset="100%" stop-color="#00ff29"/></linearGradient><linearGradient id="g156" gradientUnits="userSpaceOnUse" x1="729.8" y1="490.8" x2="788.3" y2="498.3"><stop offset="0%" stop-color="#45ff00"/><stop offset="100%" stop-color="#6fff00"/></linearGradient><linearGradient id="g157" gradientUnits="userSpaceOnUse" x1="1432" y1="301.3" x2="1430.8" y2="295.5"><stop offset="0%" stop-color="#ff2e00"/><stop offset="100%" stop-color="#ff0000"/></linearGradient><linearGradient id="g158" gradientUnits="userSpaceOnUse" x1="977.6" y1="417" x2="988.2" y2="432.4"><stop offset="0%" stop-color="#d8ff00"/><stop offset="100%" stop-color="#fcff00"/></linearGradient><linearGradient id="g159" gradientUnits="userSpaceOnUse" x1="1206.6" y1="357.5" x2="1207.6" y2="360.6"><stop offset="0%" stop-color="#ffa200"/><stop offset="100%" stop-color="#ff7b00"/></linearGradient><linearGradient id="g160" gradientUnits="userSpaceOnUse" x1="454.5" y1="617.3" x2="489.8" y2="570.6"><stop offset="0%" stop-color="#00ff88"/><stop offset="100%" stop-color="#00ff58"/></linearGradient><linearGradient id="g161" gradientUnits="userSpaceOnUse" x1="664.9" y1="527.4" x2="728.5" y2="507.2"><stop offset="0%" stop-color="#1aff00"/><stop offset="100%" stop-color="#45ff00"/></linearGradient><linearGradient id="g162" gradientUnits="userSpaceOnUse" x1="909.1" y1="434.6" x2="932.8" y2="456"><stop offset="0%" stop-color="#b2ff00"/><stop offset="100%" stop-color="#d8ff00"/></linearGradient><linearGradient id="g163" gradientUnits="userSpaceOnUse" x1="394.9" y1="644.2" x2="423.6" y2="596.6"><stop offset="0%" stop-color="#00ffbb"/><stop offset="100%" stop-color="#00ff88"/></linearGradient><linearGradient id="g164" gradientUnits="userSpaceOnUse" x1="1370.6" y1="315.5" x2="1369.9" y2="312.8"><stop offset="0%" stop-color="#ff4600"/><stop offset="100%" stop-color="#ff1500"/></linearGradient><linearGradient id="g165" gradientUnits="userSpaceOnUse" x1="1144.1" y1="374.1" x2="1146.8" y2="380.5"><stop offset="0%" stop-color="#ffc000"/><stop offset="100%" stop-color="#ff9d00"/></linearGradient><linearGradient id="g166" gradientUnits="userSpaceOnUse" x1="607.6" y1="560.4" x2="660.3" y2="522.1"><stop offset="0%" stop-color="#00ff14"/><stop offset="43.9%" stop-color="#00ff00"/><stop offset="100%" stop-color="#1aff00"/></linearGradient><linearGradient id="g167" gradientUnits="userSpaceOnUse" x1="835.9" y1="457.7" x2="881.8" y2="476.2"><stop offset="0%" stop-color="#89ff00"/><stop offset="100%" stop-color="#b2ff00"/></linearGradient><linearGradient id="g168" gradientUnits="userSpaceOnUse" x1="1080.4" y1="390.9" x2="1086.9" y2="402.5"><stop offset="0%" stop-color="#ffe200"/><stop offset="100%" stop-color="#ffbf00"/></linearGradient><linearGradient id="g169" gradientUnits="userSpaceOnUse" x1="1308.6" y1="330.3" x2="1309" y2="331.6"><stop offset="0%" stop-color="#ff6100"/><stop offset="100%" stop-color="#ff3600"/></linearGradient><linearGradient id="g170" gradientUnits="userSpaceOnUse" x1="550.5" y1="589" x2="591.6" y2="543.6"><stop offset="0%" stop-color="#00ff44"/><stop offset="100%" stop-color="#00ff14"/></linearGradient><linearGradient id="g171" gradientUnits="userSpaceOnUse" x1="764.6" y1="491.4" x2="828.4" y2="487.7"><stop offset="0%" stop-color="#5eff00"/><stop offset="100%" stop-color="#89ff00"/></linearGradient><linearGradient id="g172" gradientUnits="userSpaceOnUse" x1="1014.1" y1="408" x2="1029.1" y2="426.2"><stop offset="0%" stop-color="#f6ff00"/><stop offset="24.4%" stop-color="#ffff00"/><stop offset="100%" stop-color="#ffe200"/></linearGradient><linearGradient id="g173" gradientUnits="userSpaceOnUse" x1="491.6" y1="616.3" x2="524.5" y2="568.7"><stop offset="0%" stop-color="#00ff76"/><stop offset="100%" stop-color="#00ff44"/></linearGradient><linearGradient id="g174" gradientUnits="userSpaceOnUse" x1="1473.3" y1="288" x2="1472.2" y2="283.1"><stop offset="0%" stop-color="#ff0400"/><stop offset="100%" stop-color="#ff0000"/></linearGradient><linearGradient id="g175" gradientUnits="userSpaceOnUse" x1="1246.3" y1="346.7" x2="1247.9" y2="351"><stop offset="0%" stop-color="#ff7e00"/><stop offset="100%" stop-color="#ff5800"/></linearGradient><linearGradient id="g176" gradientUnits="userSpaceOnUse" x1="703.5" y1="527.8" x2="764" y2="498.5"><stop offset="0%" stop-color="#31ff00"/><stop offset="100%" stop-color="#5eff00"/></linearGradient><linearGradient id="g177" gradientUnits="userSpaceOnUse" x1="431.2" y1="643.9" x2="458.6" y2="595.8"><stop offset="0%" stop-color="#00ffab"/><stop offset="100%" stop-color="#00ff76"/></linearGradient><linearGradient id="g178" gradientUnits="userSpaceOnUse" x1="943.3" y1="427.5" x2="975.5" y2="449.6"><stop offset="0%" stop-color="#ceff00"/><stop offset="100%" stop-color="#f6ff00"/></linearGradient><linearGradient id="g179" gradientUnits="userSpaceOnUse" x1="1183.3" y1="363.9" x2="1187.2" y2="372.1"><stop offset="0%" stop-color="#ff9e00"/><stop offset="100%" stop-color="#ff7b00"/></linearGradient><linearGradient id="g180" gradientUnits="userSpaceOnUse" x1="1411.5" y1="303" x2="1411.1" y2="301.2"><stop offset="0%" stop-color="#ff1f00"/><stop offset="100%" stop-color="#ff0000"/></linearGradient><linearGradient id="g181" gradientUnits="userSpaceOnUse" x1="646.6" y1="559.1" x2="694.9" y2="516.8"><stop offset="0%" stop-color="#01ff00"/><stop offset="100%" stop-color="#31ff00"/></linearGradient><linearGradient id="g182" gradientUnits="userSpaceOnUse" x1="369.8" y1="672.4" x2="393.4" y2="624.1"><stop offset="0%" stop-color="#00ffe2"/><stop offset="100%" stop-color="#00ffab"/></linearGradient><linearGradient id="g183" gradientUnits="userSpaceOnUse" x1="869.2" y1="455.3" x2="924.8" y2="466.7"><stop offset="0%" stop-color="#a3ff00"/><stop offset="100%" stop-color="#ceff00"/></linearGradient><linearGradient id="g184" gradientUnits="userSpaceOnUse" x1="1118.4" y1="381.1" x2="1127.8" y2="395.3"><stop offset="0%" stop-color="#ffc300"/><stop offset="100%" stop-color="#ff9e00"/></linearGradient><linearGradient id="g185" gradientUnits="userSpaceOnUse" x1="588.6" y1="587.4" x2="626.6" y2="540.5"><stop offset="0%" stop-color="#00ff30"/><stop offset="97.5%" stop-color="#00ff00"/><stop offset="100%" stop-color="#01ff00"/></linearGradient><linearGradient id="g186" gradientUnits="userSpaceOnUse" x1="1349.2" y1="318.7" x2="1349.9" y2="320.9"><stop offset="0%" stop-color="#ff3b00"/><stop offset="100%" stop-color="#ff1100"/></linearGradient><linearGradient id="g187" gradientUnits="userSpaceOnUse" x1="801.8" y1="492.1" x2="866.8" y2="476.7"><stop offset="0%" stop-color="#77ff00"/><stop offset="100%" stop-color="#a3ff00"/></linearGradient><linearGradient id="g188" gradientUnits="userSpaceOnUse" x1="528.9" y1="615.2" x2="559.8" y2="566.9"><stop offset="0%" stop-color="#00ff64"/><stop offset="100%" stop-color="#00ff30"/></linearGradient><linearGradient id="g189" gradientUnits="userSpaceOnUse" x1="1050.2" y1="399.1" x2="1071.3" y2="419.8"><stop offset="0%" stop-color="#ffeb00"/><stop offset="100%" stop-color="#ffc300"/></linearGradient><linearGradient id="g190" gradientUnits="userSpaceOnUse" x1="1286.4" y1="335.7" x2="1288.7" y2="341.2"><stop offset="0%" stop-color="#ff5a00"/><stop offset="100%" stop-color="#ff3500"/></linearGradient><linearGradient id="g191" gradientUnits="userSpaceOnUse" x1="743.2" y1="527" x2="799.2" y2="490.8"><stop offset="0%" stop-color="#48ff00"/><stop offset="100%" stop-color="#77ff00"/></linearGradient><linearGradient id="g192" gradientUnits="userSpaceOnUse" x1="467.8" y1="643.6" x2="494" y2="594.9"><stop offset="0%" stop-color="#00ff9a"/><stop offset="100%" stop-color="#00ff64"/></linearGradient><linearGradient id="g193" gradientUnits="userSpaceOnUse" x1="977.1" y1="421.7" x2="1019.5" y2="441.8"><stop offset="0%" stop-color="#eaff00"/><stop offset="51.2%" stop-color="#ffff00"/><stop offset="100%" stop-color="#ffeb00"/></linearGradient><linearGradient id="g194" gradientUnits="userSpaceOnUse" x1="1222.5" y1="353.3" x2="1228.2" y2="363.8"><stop offset="0%" stop-color="#ff7d00"/><stop offset="100%" stop-color="#ff5800"/></linearGradient><linearGradient id="g195" gradientUnits="userSpaceOnUse" x1="406" y1="672.9" x2="428.8" y2="624.1"><stop offset="0%" stop-color="#00ffd3"/><stop offset="100%" stop-color="#00ff9a"/></linearGradient><linearGradient id="g196" gradientUnits="userSpaceOnUse" x1="685.9" y1="557.2" x2="730" y2="512.2"><stop offset="0%" stop-color="#17ff00"/><stop offset="100%" stop-color="#48ff00"/></linearGradient><linearGradient id="g198" gradientUnits="userSpaceOnUse" x1="904.3" y1="454.5" x2="966.9" y2="455.4"><stop offset="0%" stop-color="#beff00"/><stop offset="100%" stop-color="#eaff00"/></linearGradient><linearGradient id="g199" gradientUnits="userSpaceOnUse" x1="343.5" y1="703.4" x2="364" y2="654.4"><stop offset="0%" stop-color="#00f1ff"/><stop offset="24.6%" stop-color="#00ffff"/><stop offset="100%" stop-color="#00ffd3"/></linearGradient><linearGradient id="g200" gradientUnits="userSpaceOnUse" x1="626.9" y1="585.6" x2="662.2" y2="537.5"><stop offset="0%" stop-color="#00ff1d"/><stop offset="55.8%" stop-color="#00ff00"/><stop offset="100%" stop-color="#17ff00"/></linearGradient><linearGradient id="g201" gradientUnits="userSpaceOnUse" x1="1156.2" y1="371" x2="1169.7" y2="388.1"><stop offset="0%" stop-color="#ffa400"/><stop offset="100%" stop-color="#ff7d00"/></linearGradient><linearGradient id="g202" gradientUnits="userSpaceOnUse" x1="1390.2" y1="306.7" x2="1391.4" y2="310.1"><stop offset="0%" stop-color="#ff1500"/><stop offset="100%" stop-color="#ff0000"/></linearGradient><linearGradient id="g203" gradientUnits="userSpaceOnUse" x1="841.1" y1="492.1" x2="903.9" y2="466.3"><stop offset="0%" stop-color="#8fff00"/><stop offset="100%" stop-color="#beff00"/></linearGradient><linearGradient id="g204" gradientUnits="userSpaceOnUse" x1="566.4" y1="614.1" x2="595.6" y2="565.1"><stop offset="0%" stop-color="#00ff52"/><stop offset="100%" stop-color="#00ff1d"/></linearGradient><linearGradient id="g205" gradientUnits="userSpaceOnUse" x1="1085.7" y1="390.7" x2="1115" y2="412.7"><stop offset="0%" stop-color="#ffcd00"/><stop offset="100%" stop-color="#ffa400"/></linearGradient><linearGradient id="g206" gradientUnits="userSpaceOnUse" x1="1326.9" y1="324.5" x2="1330.2" y2="331.7"><stop offset="0%" stop-color="#ff3600"/><stop offset="100%" stop-color="#ff1100"/></linearGradient><linearGradient id="g207" gradientUnits="userSpaceOnUse" x1="504.8" y1="643.3" x2="529.9" y2="594"><stop offset="0%" stop-color="#00ff8a"/><stop offset="100%" stop-color="#00ff52"/></linearGradient><linearGradient id="g208" gradientUnits="userSpaceOnUse" x1="783.4" y1="525.3" x2="834.8" y2="484.1"><stop offset="0%" stop-color="#5fff00"/><stop offset="100%" stop-color="#8fff00"/></linearGradient><linearGradient id="g209" gradientUnits="userSpaceOnUse" x1="1011.3" y1="417.6" x2="1064" y2="431.9"><stop offset="0%" stop-color="#fff800"/><stop offset="100%" stop-color="#ffcd00"/></linearGradient><linearGradient id="g210" gradientUnits="userSpaceOnUse" x1="442.4" y1="673.5" x2="464.6" y2="624.1"><stop offset="0%" stop-color="#00ffc4"/><stop offset="100%" stop-color="#00ff8a"/></linearGradient><linearGradient id="g211" gradientUnits="userSpaceOnUse" x1="725.3" y1="554.9" x2="765.8" y2="507.8"><stop offset="0%" stop-color="#2cff00"/><stop offset="100%" stop-color="#5fff00"/></linearGradient><linearGradient id="g212" gradientUnits="userSpaceOnUse" x1="1261.9" y1="342.4" x2="1270.2" y2="355.5"><stop offset="0%" stop-color="#ff5c00"/><stop offset="100%" stop-color="#ff3500"/></linearGradient><linearGradient id="g213" gradientUnits="userSpaceOnUse" x1="379.5" y1="704.9" x2="399.7" y2="655.3"><stop offset="0%" stop-color="#00feff"/><stop offset="2%" stop-color="#00ffff"/><stop offset="100%" stop-color="#00ffc4"/></linearGradient><linearGradient id="g214" gradientUnits="userSpaceOnUse" x1="941.7" y1="454.4" x2="1007.3" y2="443.2"><stop offset="0%" stop-color="#d8ff00"/><stop offset="85.6%" stop-color="#ffff00"/><stop offset="100%" stop-color="#fff800"/></linearGradient><linearGradient id="g215" gradientUnits="userSpaceOnUse" x1="665.4" y1="583.6" x2="698.3" y2="534.6"><stop offset="0%" stop-color="#00ff09"/><stop offset="16.7%" stop-color="#00ff00"/><stop offset="100%" stop-color="#2cff00"/></linearGradient><linearGradient id="g216" gradientUnits="userSpaceOnUse" x1="1193.8" y1="360.9" x2="1212.8" y2="380.7"><stop offset="0%" stop-color="#ff8400"/><stop offset="100%" stop-color="#ff5c00"/></linearGradient><linearGradient id="g217" gradientUnits="userSpaceOnUse" x1="316.3" y1="737.3" x2="335" y2="687.5"><stop offset="0%" stop-color="#00bfff"/><stop offset="100%" stop-color="#00feff"/></linearGradient><linearGradient id="g219" gradientUnits="userSpaceOnUse" x1="881.7" y1="491" x2="940.5" y2="457"><stop offset="0%" stop-color="#a8ff00"/><stop offset="100%" stop-color="#d8ff00"/></linearGradient><linearGradient id="g220" gradientUnits="userSpaceOnUse" x1="604.2" y1="612.8" x2="631.9" y2="563.2"><stop offset="0%" stop-color="#00ff40"/><stop offset="100%" stop-color="#00ff09"/></linearGradient><linearGradient id="g221" gradientUnits="userSpaceOnUse" x1="1120.9" y1="383.2" x2="1160" y2="404.3"><stop offset="0%" stop-color="#ffaf00"/><stop offset="100%" stop-color="#ff8400"/></linearGradient><linearGradient id="g222" gradientUnits="userSpaceOnUse" x1="542" y1="642.9" x2="566.2" y2="593.1"><stop offset="0%" stop-color="#00ff79"/><stop offset="100%" stop-color="#00ff40"/></linearGradient><linearGradient id="g223" gradientUnits="userSpaceOnUse" x1="824" y1="522.7" x2="870.8" y2="478.1"><stop offset="0%" stop-color="#76ff00"/><stop offset="100%" stop-color="#a8ff00"/></linearGradient><linearGradient id="g224" gradientUnits="userSpaceOnUse" x1="1367.5" y1="312.8" x2="1372.4" y2="322.2"><stop offset="0%" stop-color="#ff1300"/><stop offset="100%" stop-color="#ff0000"/></linearGradient><linearGradient id="g225" gradientUnits="userSpaceOnUse" x1="479.2" y1="674.1" x2="500.9" y2="624.1"><stop offset="0%" stop-color="#00ffb5"/><stop offset="100%" stop-color="#00ff79"/></linearGradient><linearGradient id="g226" gradientUnits="userSpaceOnUse" x1="1046.8" y1="415.3" x2="1107.9" y2="420"><stop offset="0%" stop-color="#ffdc00"/><stop offset="100%" stop-color="#ffaf00"/></linearGradient><linearGradient id="g227" gradientUnits="userSpaceOnUse" x1="764.8" y1="552.2" x2="802.3" y2="503.7"><stop offset="0%" stop-color="#42ff00"/><stop offset="100%" stop-color="#76ff00"/></linearGradient><linearGradient id="g228" gradientUnits="userSpaceOnUse" x1="1301.1" y1="331.2" x2="1313.1" y2="347.2"><stop offset="0%" stop-color="#ff3b00"/><stop offset="100%" stop-color="#ff1300"/></linearGradient><linearGradient id="g229" gradientUnits="userSpaceOnUse" x1="416" y1="706.4" x2="435.8" y2="656.1"><stop offset="0%" stop-color="#00fff3"/><stop offset="100%" stop-color="#00ffb5"/></linearGradient><linearGradient id="g230" gradientUnits="userSpaceOnUse" x1="981.6" y1="453.9" x2="1046.2" y2="431.3"><stop offset="0%" stop-color="#f2ff00"/><stop offset="26.7%" stop-color="#ffff00"/><stop offset="100%" stop-color="#ffdc00"/></linearGradient><linearGradient id="g231" gradientUnits="userSpaceOnUse" x1="704.1" y1="581.5" x2="735.1" y2="531.8"><stop offset="0%" stop-color="#0bff00"/><stop offset="100%" stop-color="#42ff00"/></linearGradient><linearGradient id="g232" gradientUnits="userSpaceOnUse" x1="352.4" y1="739.8" x2="370.9" y2="689.2"><stop offset="0%" stop-color="#00cbff"/><stop offset="81.2%" stop-color="#00ffff"/><stop offset="100%" stop-color="#00fff3"/></linearGradient><linearGradient id="g233" gradientUnits="userSpaceOnUse" x1="1230.8" y1="351.1" x2="1257.5" y2="372.8"><stop offset="0%" stop-color="#ff6500"/><stop offset="100%" stop-color="#ff3b00"/></linearGradient><linearGradient id="g234" gradientUnits="userSpaceOnUse" x1="642.3" y1="611.6" x2="668.8" y2="561.4"><stop offset="0%" stop-color="#00ff2e"/><stop offset="80.7%" stop-color="#00ff00"/><stop offset="100%" stop-color="#0bff00"/></linearGradient><linearGradient id="g235" gradientUnits="userSpaceOnUse" x1="288.5" y1="774.3" x2="306" y2="723.4"><stop offset="0%" stop-color="#0089ff"/><stop offset="100%" stop-color="#00cbff"/></linearGradient><linearGradient id="g236" gradientUnits="userSpaceOnUse" x1="923.1" y1="488.7" x2="977.1" y2="448.7"><stop offset="0%" stop-color="#c1ff00"/><stop offset="100%" stop-color="#f2ff00"/></linearGradient><linearGradient id="g237" gradientUnits="userSpaceOnUse" x1="579.6" y1="642.6" x2="603" y2="592.2"><stop offset="0%" stop-color="#00ff69"/><stop offset="100%" stop-color="#00ff2e"/></linearGradient><linearGradient id="g238" gradientUnits="userSpaceOnUse" x1="1156" y1="377.4" x2="1206" y2="393.9"><stop offset="0%" stop-color="#ff9200"/><stop offset="100%" stop-color="#ff6500"/></linearGradient><linearGradient id="g239" gradientUnits="userSpaceOnUse" x1="864.7" y1="519.6" x2="907.6" y2="472.5"><stop offset="0%" stop-color="#8dff00"/><stop offset="100%" stop-color="#c1ff00"/></linearGradient><linearGradient id="g241" gradientUnits="userSpaceOnUse" x1="516.4" y1="674.7" x2="537.6" y2="624"><stop offset="0%" stop-color="#00ffa6"/><stop offset="100%" stop-color="#00ff69"/></linearGradient><linearGradient id="g242" gradientUnits="userSpaceOnUse" x1="1084.7" y1="414.2" x2="1150.4" y2="406.7"><stop offset="0%" stop-color="#ffc000"/><stop offset="100%" stop-color="#ff9200"/></linearGradient><linearGradient id="g243" gradientUnits="userSpaceOnUse" x1="804.6" y1="549.3" x2="839.4" y2="499.7"><stop offset="0%" stop-color="#57ff00"/><stop offset="100%" stop-color="#8dff00"/></linearGradient><linearGradient id="g244" gradientUnits="userSpaceOnUse" x1="452.7" y1="707.9" x2="472.3" y2="657"><stop offset="0%" stop-color="#00ffe6"/><stop offset="100%" stop-color="#00ffa6"/></linearGradient><linearGradient id="g245" gradientUnits="userSpaceOnUse" x1="1340.1" y1="319.8" x2="1357.4" y2="338.8"><stop offset="0%" stop-color="#ff1a00"/><stop offset="100%" stop-color="#ff0000"/></linearGradient><linearGradient id="g246" gradientUnits="userSpaceOnUse" x1="743.1" y1="579.4" x2="772.4" y2="528.9"><stop offset="0%" stop-color="#1fff00"/><stop offset="100%" stop-color="#57ff00"/></linearGradient><linearGradient id="g247" gradientUnits="userSpaceOnUse" x1="388.8" y1="742.3" x2="407.2" y2="691"><stop offset="0%" stop-color="#00d7ff"/><stop offset="61.4%" stop-color="#00ffff"/><stop offset="100%" stop-color="#00ffe6"/></linearGradient><linearGradient id="g248" gradientUnits="userSpaceOnUse" x1="1023.1" y1="452.2" x2="1084.2" y2="420.3"><stop offset="0%" stop-color="#fff100"/><stop offset="100%" stop-color="#ffc000"/></linearGradient><linearGradient id="g249" gradientUnits="userSpaceOnUse" x1="324.6" y1="777.8" x2="342.1" y2="726"><stop offset="0%" stop-color="#0093ff"/><stop offset="100%" stop-color="#00d7ff"/></linearGradient><linearGradient id="g250" gradientUnits="userSpaceOnUse" x1="680.7" y1="610.3" x2="706.1" y2="559.5"><stop offset="0%" stop-color="#00ff1c"/><stop offset="47.2%" stop-color="#00ff00"/><stop offset="100%" stop-color="#1fff00"/></linearGradient><linearGradient id="g251" gradientUnits="userSpaceOnUse" x1="1267.3" y1="342.1" x2="1303.7" y2="363.7"><stop offset="0%" stop-color="#ff4600"/><stop offset="100%" stop-color="#ff1a00"/></linearGradient><linearGradient id="g252" gradientUnits="userSpaceOnUse" x1="964.9" y1="485.5" x2="1014.2" y2="441.3"><stop offset="0%" stop-color="#daff00"/><stop offset="73%" stop-color="#ffff00"/><stop offset="100%" stop-color="#fff100"/></linearGradient><linearGradient id="g253" gradientUnits="userSpaceOnUse" x1="617.5" y1="642.2" x2="640.3" y2="591.2"><stop offset="0%" stop-color="#00ff58"/><stop offset="100%" stop-color="#00ff1c"/></linearGradient><linearGradient id="g254" gradientUnits="userSpaceOnUse" x1="1192.2" y1="373.7" x2="1251.8" y2="381.3"><stop offset="0%" stop-color="#ff7400"/><stop offset="100%" stop-color="#ff4600"/></linearGradient><linearGradient id="g255" gradientUnits="userSpaceOnUse" x1="905.6" y1="516.1" x2="945.1" y2="467.2"><stop offset="0%" stop-color="#a4ff00"/><stop offset="100%" stop-color="#daff00"/></linearGradient><linearGradient id="g256" gradientUnits="userSpaceOnUse" x1="553.9" y1="675.2" x2="574.7" y2="624"><stop offset="0%" stop-color="#00ff97"/><stop offset="100%" stop-color="#00ff58"/></linearGradient><linearGradient id="g257" gradientUnits="userSpaceOnUse" x1="844.7" y1="546.3" x2="877.2" y2="495.8"><stop offset="0%" stop-color="#6dff00"/><stop offset="100%" stop-color="#a4ff00"/></linearGradient><linearGradient id="g258" gradientUnits="userSpaceOnUse" x1="1125.1" y1="412.9" x2="1191.1" y2="393.3"><stop offset="0%" stop-color="#ffa400"/><stop offset="100%" stop-color="#ff7400"/></linearGradient><linearGradient id="g259" gradientUnits="userSpaceOnUse" x1="489.9" y1="709.4" x2="509.2" y2="657.8"><stop offset="0%" stop-color="#00ffd8"/><stop offset="100%" stop-color="#00ff97"/></linearGradient><linearGradient id="g260" gradientUnits="userSpaceOnUse" x1="425.6" y1="744.8" x2="443.8" y2="692.7"><stop offset="0%" stop-color="#00e2ff"/><stop offset="42.6%" stop-color="#00ffff"/><stop offset="100%" stop-color="#00ffd8"/></linearGradient><linearGradient id="g261" gradientUnits="userSpaceOnUse" x1="782.5" y1="577.1" x2="810.3" y2="526"><stop offset="0%" stop-color="#33ff00"/><stop offset="100%" stop-color="#6dff00"/></linearGradient><linearGradient id="g263" gradientUnits="userSpaceOnUse" x1="1065.7" y1="449.4" x2="1122.1" y2="410.5"><stop offset="0%" stop-color="#ffd700"/><stop offset="100%" stop-color="#ffa400"/></linearGradient><linearGradient id="g264" gradientUnits="userSpaceOnUse" x1="361.1" y1="781.2" x2="378.5" y2="728.7"><stop offset="0%" stop-color="#009dff"/><stop offset="100%" stop-color="#00e2ff"/></linearGradient><linearGradient id="g265" gradientUnits="userSpaceOnUse" x1="719.4" y1="608.9" x2="744" y2="557.5"><stop offset="0%" stop-color="#00ff09"/><stop offset="15.5%" stop-color="#00ff00"/><stop offset="100%" stop-color="#33ff00"/></linearGradient><linearGradient id="g266" gradientUnits="userSpaceOnUse" x1="1303.5" y1="334.7" x2="1351.1" y2="352.8"><stop offset="0%" stop-color="#ff2600"/><stop offset="100%" stop-color="#ff0000"/></linearGradient><linearGradient id="g267" gradientUnits="userSpaceOnUse" x1="1007" y1="481.5" x2="1052" y2="434.4"><stop offset="0%" stop-color="#f2ff00"/><stop offset="23.7%" stop-color="#ffff00"/><stop offset="100%" stop-color="#ffd700"/></linearGradient><linearGradient id="g268" gradientUnits="userSpaceOnUse" x1="655.8" y1="641.8" x2="678" y2="590.2"><stop offset="0%" stop-color="#00ff48"/><stop offset="100%" stop-color="#00ff09"/></linearGradient><linearGradient id="g269" gradientUnits="userSpaceOnUse" x1="946.7" y1="512.3" x2="983.2" y2="462.1"><stop offset="0%" stop-color="#bbff00"/><stop offset="100%" stop-color="#f2ff00"/></linearGradient><linearGradient id="g270" gradientUnits="userSpaceOnUse" x1="1230.7" y1="371.4" x2="1296.2" y2="367"><stop offset="0%" stop-color="#ff5600"/><stop offset="100%" stop-color="#ff2600"/></linearGradient><linearGradient id="g271" gradientUnits="userSpaceOnUse" x1="591.8" y1="675.8" x2="612.2" y2="623.9"><stop offset="0%" stop-color="#00ff88"/><stop offset="100%" stop-color="#00ff48"/></linearGradient><linearGradient id="g272" gradientUnits="userSpaceOnUse" x1="527.4" y1="711" x2="546.5" y2="658.7"><stop offset="0%" stop-color="#00ffcb"/><stop offset="100%" stop-color="#00ff88"/></linearGradient><linearGradient id="g273" gradientUnits="userSpaceOnUse" x1="885" y1="543.1" x2="915.6" y2="491.9"><stop offset="0%" stop-color="#82ff00"/><stop offset="100%" stop-color="#bbff00"/></linearGradient><linearGradient id="g274" gradientUnits="userSpaceOnUse" x1="1167.7" y1="410.8" x2="1230.7" y2="380.7"><stop offset="0%" stop-color="#ff8800"/><stop offset="100%" stop-color="#ff5600"/></linearGradient><linearGradient id="g275" gradientUnits="userSpaceOnUse" x1="462.7" y1="747.3" x2="480.9" y2="694.5"><stop offset="0%" stop-color="#00eeff"/><stop offset="24.6%" stop-color="#00ffff"/><stop offset="100%" stop-color="#00ffcb"/></linearGradient><linearGradient id="g276" gradientUnits="userSpaceOnUse" x1="822.1" y1="574.8" x2="848.7" y2="523.1"><stop offset="0%" stop-color="#47ff00"/><stop offset="100%" stop-color="#82ff00"/></linearGradient><linearGradient id="g277" gradientUnits="userSpaceOnUse" x1="397.9" y1="784.7" x2="415.4" y2="731.4"><stop offset="0%" stop-color="#00a7ff"/><stop offset="100%" stop-color="#00eeff"/></linearGradient><linearGradient id="g278" gradientUnits="userSpaceOnUse" x1="1108.9" y1="445.4" x2="1160.3" y2="401.6"><stop offset="0%" stop-color="#ffbc00"/><stop offset="100%" stop-color="#ff8800"/></linearGradient><linearGradient id="g279" gradientUnits="userSpaceOnUse" x1="758.6" y1="607.6" x2="782.3" y2="555.6"><stop offset="0%" stop-color="#09ff00"/><stop offset="100%" stop-color="#47ff00"/></linearGradient><linearGradient id="g280" gradientUnits="userSpaceOnUse" x1="1049.3" y1="477.1" x2="1090.5" y2="427.9"><stop offset="0%" stop-color="#fff300"/><stop offset="100%" stop-color="#ffbc00"/></linearGradient><linearGradient id="g281" gradientUnits="userSpaceOnUse" x1="1340.6" y1="329.4" x2="1398.6" y2="339.4"><stop offset="0%" stop-color="#ff0700"/><stop offset="100%" stop-color="#ff0000"/></linearGradient><linearGradient id="g282" gradientUnits="userSpaceOnUse" x1="694.5" y1="641.4" x2="716.2" y2="589.1"><stop offset="0%" stop-color="#00ff37"/><stop offset="86%" stop-color="#00ff00"/><stop offset="100%" stop-color="#09ff00"/></linearGradient><linearGradient id="g283" gradientUnits="userSpaceOnUse" x1="630" y1="676.4" x2="650.2" y2="623.8"><stop offset="0%" stop-color="#00ff79"/><stop offset="100%" stop-color="#00ff37"/></linearGradient><linearGradient id="g284" gradientUnits="userSpaceOnUse" x1="988.1" y1="508.2" x2="1022" y2="457"><stop offset="0%" stop-color="#d3ff00"/><stop offset="78.2%" stop-color="#ffff00"/><stop offset="100%" stop-color="#fff300"/></linearGradient><linearGradient id="g285" gradientUnits="userSpaceOnUse" x1="1271.8" y1="369.4" x2="1338.8" y2="352.1"><stop offset="0%" stop-color="#ff3800"/><stop offset="100%" stop-color="#ff0700"/></linearGradient><linearGradient id="g286" gradientUnits="userSpaceOnUse" x1="565.3" y1="712.5" x2="584.3" y2="659.5"><stop offset="0%" stop-color="#00ffbe"/><stop offset="100%" stop-color="#00ff79"/></linearGradient><linearGradient id="g287" gradientUnits="userSpaceOnUse" x1="925.6" y1="539.9" x2="954.5" y2="487.9"><stop offset="0%" stop-color="#98ff00"/><stop offset="100%" stop-color="#d3ff00"/></linearGradient><linearGradient id="g288" gradientUnits="userSpaceOnUse" x1="500.3" y1="749.8" x2="518.4" y2="696.2"><stop offset="0%" stop-color="#00faff"/><stop offset="7.4%" stop-color="#00ffff"/><stop offset="100%" stop-color="#00ffbe"/></linearGradient><linearGradient id="g289" gradientUnits="userSpaceOnUse" x1="1211.5" y1="407.3" x2="1269.8" y2="369.2"><stop offset="0%" stop-color="#ff6c00"/><stop offset="100%" stop-color="#ff3800"/></linearGradient><linearGradient id="g290" gradientUnits="userSpaceOnUse" x1="862.2" y1="572.5" x2="887.6" y2="520.2"><stop offset="0%" stop-color="#5bff00"/><stop offset="100%" stop-color="#98ff00"/></linearGradient><linearGradient id="g291" gradientUnits="userSpaceOnUse" x1="435.1" y1="788.2" x2="452.6" y2="734"><stop offset="0%" stop-color="#00b1ff"/><stop offset="100%" stop-color="#00faff"/></linearGradient><linearGradient id="g292" gradientUnits="userSpaceOnUse" x1="1152.5" y1="440.7" x2="1199.2" y2="393.4"><stop offset="0%" stop-color="#ffa200"/><stop offset="100%" stop-color="#ff6c00"/></linearGradient><linearGradient id="g293" gradientUnits="userSpaceOnUse" x1="798.1" y1="606.2" x2="821.1" y2="553.6"><stop offset="0%" stop-color="#1bff00"/><stop offset="100%" stop-color="#5bff00"/></linearGradient><linearGradient id="g294" gradientUnits="userSpaceOnUse" x1="1091.9" y1="472.3" x2="1129.7" y2="421.6"><stop offset="0%" stop-color="#ffda00"/><stop offset="100%" stop-color="#ffa200"/></linearGradient><linearGradient id="g295" gradientUnits="userSpaceOnUse" x1="733.6" y1="641" x2="754.8" y2="588.1"><stop offset="0%" stop-color="#00ff26"/><stop offset="58.4%" stop-color="#00ff00"/><stop offset="100%" stop-color="#1bff00"/></linearGradient><linearGradient id="g296" gradientUnits="userSpaceOnUse" x1="668.7" y1="677" x2="688.6" y2="623.6"><stop offset="0%" stop-color="#00ff6a"/><stop offset="100%" stop-color="#00ff26"/></linearGradient><linearGradient id="g297" gradientUnits="userSpaceOnUse" x1="1029.7" y1="504.1" x2="1061.5" y2="452"><stop offset="0%" stop-color="#eaff00"/><stop offset="36.1%" stop-color="#ffff00"/><stop offset="100%" stop-color="#ffda00"/></linearGradient><linearGradient id="g298" gradientUnits="userSpaceOnUse" x1="1315.4" y1="366.5" x2="1379.9" y2="337.9"><stop offset="0%" stop-color="#ff1a00"/><stop offset="100%" stop-color="#ff0000"/></linearGradient><linearGradient id="g299" gradientUnits="userSpaceOnUse" x1="603.6" y1="714.1" x2="622.4" y2="660.3"><stop offset="0%" stop-color="#00ffb0"/><stop offset="100%" stop-color="#00ff6a"/></linearGradient><linearGradient id="g300" gradientUnits="userSpaceOnUse" x1="966.5" y1="536.6" x2="994" y2="484"><stop offset="0%" stop-color="#adff00"/><stop offset="100%" stop-color="#eaff00"/></linearGradient><linearGradient id="g301" gradientUnits="userSpaceOnUse" x1="538.3" y1="752.3" x2="556.3" y2="698"><stop offset="0%" stop-color="#00fff8"/><stop offset="100%" stop-color="#00ffb0"/></linearGradient><linearGradient id="g302" gradientUnits="userSpaceOnUse" x1="1256.2" y1="402.5" x2="1309.2" y2="358.9"><stop offset="0%" stop-color="#ff5000"/><stop offset="100%" stop-color="#ff1a00"/></linearGradient><linearGradient id="g303" gradientUnits="userSpaceOnUse" x1="472.7" y1="791.7" x2="490.3" y2="736.7"><stop offset="0%" stop-color="#00bbff"/><stop offset="91.2%" stop-color="#00ffff"/><stop offset="100%" stop-color="#00fff8"/></linearGradient><linearGradient id="g304" gradientUnits="userSpaceOnUse" x1="902.5" y1="570.1" x2="927.1" y2="517.2"><stop offset="0%" stop-color="#6fff00"/><stop offset="100%" stop-color="#adff00"/></linearGradient><linearGradient id="g305" gradientUnits="userSpaceOnUse" x1="1196.2" y1="435.3" x2="1238.8" y2="385.6"><stop offset="0%" stop-color="#ff8700"/><stop offset="100%" stop-color="#ff5000"/></linearGradient><linearGradient id="g306" gradientUnits="userSpaceOnUse" x1="838" y1="604.7" x2="860.4" y2="551.5"><stop offset="0%" stop-color="#2eff00"/><stop offset="100%" stop-color="#6fff00"/></linearGradient><linearGradient id="g307" gradientUnits="userSpaceOnUse" x1="773.1" y1="640.6" x2="793.9" y2="586.9"><stop offset="0%" stop-color="#00ff16"/><stop offset="32.1%" stop-color="#00ff00"/><stop offset="100%" stop-color="#2eff00"/></linearGradient><linearGradient id="g308" gradientUnits="userSpaceOnUse" x1="1134.6" y1="467.3" x2="1169.7" y2="415.4"><stop offset="0%" stop-color="#ffc100"/><stop offset="100%" stop-color="#ff8700"/></linearGradient><linearGradient id="g309" gradientUnits="userSpaceOnUse" x1="707.8" y1="677.5" x2="727.4" y2="623.4"><stop offset="0%" stop-color="#00ff5b"/><stop offset="100%" stop-color="#00ff16"/></linearGradient><linearGradient id="g310" gradientUnits="userSpaceOnUse" x1="1071.7" y1="499.8" x2="1101.6" y2="447"><stop offset="0%" stop-color="#fffd00"/><stop offset="100%" stop-color="#ffc100"/></linearGradient><linearGradient id="g311" gradientUnits="userSpaceOnUse" x1="642.3" y1="715.6" x2="661" y2="661"><stop offset="0%" stop-color="#00ffa3"/><stop offset="100%" stop-color="#00ff5b"/></linearGradient><linearGradient id="g312" gradientUnits="userSpaceOnUse" x1="576.6" y1="754.9" x2="594.7" y2="699.7"><stop offset="0%" stop-color="#00ffed"/><stop offset="100%" stop-color="#00ffa3"/></linearGradient><linearGradient id="g313" gradientUnits="userSpaceOnUse" x1="1007.9" y1="533.2" x2="1034.1" y2="480"><stop offset="0%" stop-color="#c3ff00"/><stop offset="96.4%" stop-color="#ffff00"/><stop offset="100%" stop-color="#fffd00"/></linearGradient><linearGradient id="g314" gradientUnits="userSpaceOnUse" x1="510.8" y1="795.3" x2="528.3" y2="739.4"><stop offset="0%" stop-color="#00c5ff"/><stop offset="75.9%" stop-color="#00ffff"/><stop offset="100%" stop-color="#00ffed"/></linearGradient><linearGradient id="g315" gradientUnits="userSpaceOnUse" x1="1301.2" y1="396.8" x2="1349.2" y2="349.3"><stop offset="0%" stop-color="#ff3300"/><stop offset="100%" stop-color="#ff0000"/></linearGradient><linearGradient id="g316" gradientUnits="userSpaceOnUse" x1="943.3" y1="567.7" x2="967" y2="514.1"><stop offset="0%" stop-color="#83ff00"/><stop offset="100%" stop-color="#c3ff00"/></linearGradient><linearGradient id="g317" gradientUnits="userSpaceOnUse" x1="878.3" y1="603.3" x2="900.2" y2="549.4"><stop offset="0%" stop-color="#40ff00"/><stop offset="100%" stop-color="#83ff00"/></linearGradient><linearGradient id="g318" gradientUnits="userSpaceOnUse" x1="1240.2" y1="429.5" x2="1279.1" y2="378"><stop offset="0%" stop-color="#ff6c00"/><stop offset="100%" stop-color="#ff3300"/></linearGradient><linearGradient id="g319" gradientUnits="userSpaceOnUse" x1="813" y1="640.1" x2="833.4" y2="585.8"><stop offset="0%" stop-color="#00ff05"/><stop offset="7%" stop-color="#00ff00"/><stop offset="100%" stop-color="#40ff00"/></linearGradient><linearGradient id="g320" gradientUnits="userSpaceOnUse" x1="1177.7" y1="462" x2="1210.3" y2="409.2"><stop offset="0%" stop-color="#ffa800"/><stop offset="100%" stop-color="#ff6c00"/></linearGradient><linearGradient id="g321" gradientUnits="userSpaceOnUse" x1="747.3" y1="678.1" x2="766.7" y2="623.3"><stop offset="0%" stop-color="#00ff4c"/><stop offset="100%" stop-color="#00ff05"/></linearGradient><linearGradient id="g322" gradientUnits="userSpaceOnUse" x1="1114" y1="495.4" x2="1142.3" y2="441.9"><stop offset="0%" stop-color="#ffe500"/><stop offset="100%" stop-color="#ffa800"/></linearGradient><linearGradient id="g323" gradientUnits="userSpaceOnUse" x1="681.4" y1="717.2" x2="700.1" y2="661.8"><stop offset="0%" stop-color="#00ff95"/><stop offset="100%" stop-color="#00ff4c"/></linearGradient><linearGradient id="g324" gradientUnits="userSpaceOnUse" x1="615.4" y1="757.5" x2="633.4" y2="701.4"><stop offset="0%" stop-color="#00ffe1"/><stop offset="100%" stop-color="#00ff95"/></linearGradient><linearGradient id="g325" gradientUnits="userSpaceOnUse" x1="1049.6" y1="529.7" x2="1074.7" y2="475.9"><stop offset="0%" stop-color="#d9ff00"/><stop offset="59.9%" stop-color="#ffff00"/><stop offset="100%" stop-color="#ffe500"/></linearGradient><linearGradient id="g326" gradientUnits="userSpaceOnUse" x1="549.2" y1="798.9" x2="566.8" y2="742.1"><stop offset="0%" stop-color="#00cfff"/><stop offset="61.1%" stop-color="#00ffff"/><stop offset="100%" stop-color="#00ffe1"/></linearGradient><linearGradient id="g327" gradientUnits="userSpaceOnUse" x1="984.5" y1="565.2" x2="1007.5" y2="511"><stop offset="0%" stop-color="#97ff00"/><stop offset="100%" stop-color="#d9ff00"/></linearGradient><linearGradient id="g328" gradientUnits="userSpaceOnUse" x1="919.1" y1="601.8" x2="940.4" y2="547.3"><stop offset="0%" stop-color="#52ff00"/><stop offset="100%" stop-color="#97ff00"/></linearGradient><linearGradient id="g329" gradientUnits="userSpaceOnUse" x1="1284.4" y1="423.3" x2="1320.3" y2="370.6"><stop offset="0%" stop-color="#ff5200"/><stop offset="100%" stop-color="#ff1700"/></linearGradient><linearGradient id="g330" gradientUnits="userSpaceOnUse" x1="853.3" y1="639.7" x2="873.4" y2="584.6"><stop offset="0%" stop-color="#0cff00"/><stop offset="100%" stop-color="#52ff00"/></linearGradient><linearGradient id="g331" gradientUnits="userSpaceOnUse" x1="1221.1" y1="456.6" x2="1251.6" y2="403"><stop offset="0%" stop-color="#ff8f00"/><stop offset="100%" stop-color="#ff5200"/></linearGradient><linearGradient id="g332" gradientUnits="userSpaceOnUse" x1="787.2" y1="678.6" x2="806.5" y2="623"><stop offset="0%" stop-color="#00ff3d"/><stop offset="83.5%" stop-color="#00ff00"/><stop offset="100%" stop-color="#0cff00"/></linearGradient><linearGradient id="g333" gradientUnits="userSpaceOnUse" x1="721" y1="718.8" x2="739.5" y2="662.6"><stop offset="0%" stop-color="#00ff88"/><stop offset="100%" stop-color="#00ff3d"/></linearGradient><linearGradient id="g334" gradientUnits="userSpaceOnUse" x1="1156.7" y1="490.9" x2="1183.6" y2="436.8"><stop offset="0%" stop-color="#ffce00"/><stop offset="100%" stop-color="#ff8f00"/></linearGradient><linearGradient id="g335" gradientUnits="userSpaceOnUse" x1="654.6" y1="760.1" x2="672.6" y2="703.2"><stop offset="0%" stop-color="#00ffd5"/><stop offset="100%" stop-color="#00ff88"/></linearGradient><linearGradient id="g336" gradientUnits="userSpaceOnUse" x1="588" y1="802.5" x2="605.7" y2="744.9"><stop offset="0%" stop-color="#00daff"/><stop offset="47%" stop-color="#00ffff"/><stop offset="100%" stop-color="#00ffd5"/></linearGradient><linearGradient id="g337" gradientUnits="userSpaceOnUse" x1="1091.7" y1="526.2" x2="1115.9" y2="471.7"><stop offset="0%" stop-color="#efff00"/><stop offset="25.2%" stop-color="#ffff00"/><stop offset="100%" stop-color="#ffce00"/></linearGradient><linearGradient id="g338" gradientUnits="userSpaceOnUse" x1="1026.2" y1="562.7" x2="1048.5" y2="507.8"><stop offset="0%" stop-color="#abff00"/><stop offset="100%" stop-color="#efff00"/></linearGradient><linearGradient id="g339" gradientUnits="userSpaceOnUse" x1="960.2" y1="600.4" x2="981.2" y2="545.1"><stop offset="0%" stop-color="#65ff00"/><stop offset="100%" stop-color="#abff00"/></linearGradient><linearGradient id="g340" gradientUnits="userSpaceOnUse" x1="894" y1="639.2" x2="913.9" y2="583.4"><stop offset="0%" stop-color="#1dff00"/><stop offset="100%" stop-color="#65ff00"/></linearGradient><linearGradient id="g341" gradientUnits="userSpaceOnUse" x1="827.6" y1="679.2" x2="846.7" y2="622.8"><stop offset="0%" stop-color="#00ff2e"/><stop offset="61.3%" stop-color="#00ff00"/><stop offset="100%" stop-color="#1dff00"/></linearGradient><linearGradient id="g342" gradientUnits="userSpaceOnUse" x1="1264.8" y1="451.1" x2="1293.5" y2="396.8"><stop offset="0%" stop-color="#ff7600"/><stop offset="100%" stop-color="#ff3700"/></linearGradient><linearGradient id="g343" gradientUnits="userSpaceOnUse" x1="761" y1="720.4" x2="779.4" y2="663.3"><stop offset="0%" stop-color="#00ff7a"/><stop offset="100%" stop-color="#00ff2e"/></linearGradient><linearGradient id="g344" gradientUnits="userSpaceOnUse" x1="1199.8" y1="486.3" x2="1225.4" y2="431.6"><stop offset="0%" stop-color="#ffb700"/><stop offset="100%" stop-color="#ff7600"/></linearGradient><linearGradient id="g345" gradientUnits="userSpaceOnUse" x1="694.2" y1="762.7" x2="712.2" y2="704.9"><stop offset="0%" stop-color="#00ffc9"/><stop offset="100%" stop-color="#00ff7a"/></linearGradient><linearGradient id="g346" gradientUnits="userSpaceOnUse" x1="627.3" y1="806.1" x2="645" y2="747.6"><stop offset="0%" stop-color="#00e4ff"/><stop offset="33.4%" stop-color="#00ffff"/><stop offset="100%" stop-color="#00ffc9"/></linearGradient><linearGradient id="g347" gradientUnits="userSpaceOnUse" x1="1134.2" y1="522.6" x2="1157.6" y2="467.5"><stop offset="0%" stop-color="#fffa00"/><stop offset="100%" stop-color="#ffb700"/></linearGradient><linearGradient id="g348" gradientUnits="userSpaceOnUse" x1="1068.2" y1="560.2" x2="1090" y2="504.6"><stop offset="0%" stop-color="#bfff00"/><stop offset="92.4%" stop-color="#ffff00"/><stop offset="100%" stop-color="#fffa00"/></linearGradient><linearGradient id="g349" gradientUnits="userSpaceOnUse" x1="1001.9" y1="598.8" x2="1022.4" y2="542.8"><stop offset="0%" stop-color="#77ff00"/><stop offset="100%" stop-color="#bfff00"/></linearGradient><linearGradient id="g350" gradientUnits="userSpaceOnUse" x1="935.2" y1="638.7" x2="954.9" y2="582.1"><stop offset="0%" stop-color="#2eff00"/><stop offset="100%" stop-color="#77ff00"/></linearGradient><linearGradient id="g351" gradientUnits="userSpaceOnUse" x1="868.4" y1="679.8" x2="887.3" y2="622.5"><stop offset="0%" stop-color="#00ff1e"/><stop offset="39.9%" stop-color="#00ff00"/><stop offset="100%" stop-color="#2eff00"/></linearGradient><linearGradient id="g352" gradientUnits="userSpaceOnUse" x1="801.4" y1="722" x2="819.8" y2="664"><stop offset="0%" stop-color="#00ff6d"/><stop offset="100%" stop-color="#00ff1e"/></linearGradient><linearGradient id="g353" gradientUnits="userSpaceOnUse" x1="734.2" y1="765.3" x2="752.3" y2="706.6"><stop offset="0%" stop-color="#00ffbd"/><stop offset="100%" stop-color="#00ff6d"/></linearGradient><linearGradient id="g354" gradientUnits="userSpaceOnUse" x1="1243.3" y1="481.7" x2="1267.9" y2="426.3"><stop offset="0%" stop-color="#ff9f00"/><stop offset="100%" stop-color="#ff5d00"/></linearGradient><linearGradient id="g355" gradientUnits="userSpaceOnUse" x1="667" y1="809.8" x2="684.8" y2="750.3"><stop offset="0%" stop-color="#00eeff"/><stop offset="20.2%" stop-color="#00ffff"/><stop offset="100%" stop-color="#00ffbd"/></linearGradient><linearGradient id="g356" gradientUnits="userSpaceOnUse" x1="1177.2" y1="519" x2="1199.9" y2="463.3"><stop offset="0%" stop-color="#ffe400"/><stop offset="100%" stop-color="#ff9f00"/></linearGradient><linearGradient id="g357" gradientUnits="userSpaceOnUse" x1="1110.7" y1="557.6" x2="1132" y2="501.3"><stop offset="0%" stop-color="#d3ff00"/><stop offset="61.8%" stop-color="#ffff00"/><stop offset="100%" stop-color="#ffe400"/></linearGradient><linearGradient id="g358" gradientUnits="userSpaceOnUse" x1="1043.9" y1="597.3" x2="1064.1" y2="540.5"><stop offset="0%" stop-color="#8aff00"/><stop offset="100%" stop-color="#d3ff00"/></linearGradient><linearGradient id="g359" gradientUnits="userSpaceOnUse" x1="976.9" y1="638.2" x2="996.3" y2="580.8"><stop offset="0%" stop-color="#3fff00"/><stop offset="100%" stop-color="#8aff00"/></linearGradient><linearGradient id="g360" gradientUnits="userSpaceOnUse" x1="909.7" y1="680.3" x2="928.5" y2="622.2"><stop offset="0%" stop-color="#00ff0f"/><stop offset="19.4%" stop-color="#00ff00"/><stop offset="100%" stop-color="#3fff00"/></linearGradient><linearGradient id="g361" gradientUnits="userSpaceOnUse" x1="842.3" y1="723.6" x2="860.6" y2="664.7"><stop offset="0%" stop-color="#00ff5f"/><stop offset="100%" stop-color="#00ff0f"/></linearGradient><linearGradient id="g362" gradientUnits="userSpaceOnUse" x1="774.7" y1="768" x2="792.8" y2="708.3"><stop offset="0%" stop-color="#00ffb1"/><stop offset="100%" stop-color="#00ff5f"/></linearGradient><linearGradient id="g363" gradientUnits="userSpaceOnUse" x1="707.1" y1="813.5" x2="724.9" y2="753.1"><stop offset="0%" stop-color="#00f9ff"/><stop offset="7.6%" stop-color="#00ffff"/><stop offset="100%" stop-color="#00ffb1"/></linearGradient><linearGradient id="g364" gradientUnits="userSpaceOnUse" x1="1220.7" y1="515.4" x2="1242.7" y2="458.9"><stop offset="0%" stop-color="#ffce00"/><stop offset="100%" stop-color="#ff8800"/></linearGradient><linearGradient id="g365" gradientUnits="userSpaceOnUse" x1="1153.7" y1="555" x2="1174.5" y2="498"><stop offset="0%" stop-color="#e7ff00"/><stop offset="32.6%" stop-color="#ffff00"/><stop offset="100%" stop-color="#ffce00"/></linearGradient><linearGradient id="g366" gradientUnits="userSpaceOnUse" x1="1086.5" y1="595.7" x2="1106.4" y2="538.2"><stop offset="0%" stop-color="#9dff00"/><stop offset="100%" stop-color="#e7ff00"/></linearGradient><linearGradient id="g367" gradientUnits="userSpaceOnUse" x1="1019" y1="637.7" x2="1038.2" y2="579.5"><stop offset="0%" stop-color="#4fff00"/><stop offset="100%" stop-color="#9dff00"/></linearGradient><linearGradient id="g368" gradientUnits="userSpaceOnUse" x1="951.4" y1="680.9" x2="970.1" y2="621.9"><stop offset="0%" stop-color="#00ff00"/><stop offset="100%" stop-color="#4fff00"/></linearGradient><linearGradient id="g369" gradientUnits="userSpaceOnUse" x1="883.6" y1="725.2" x2="901.9" y2="665.4"><stop offset="0%" stop-color="#00ff51"/><stop offset="99.7%" stop-color="#00ff00"/><stop offset="100%" stop-color="#00ff00"/></linearGradient><linearGradient id="g370" gradientUnits="userSpaceOnUse" x1="815.7" y1="770.6" x2="833.8" y2="710.1"><stop offset="0%" stop-color="#00ffa5"/><stop offset="100%" stop-color="#00ff51"/></linearGradient><linearGradient id="g371" gradientUnits="userSpaceOnUse" x1="747.6" y1="817.2" x2="765.6" y2="755.8"><stop offset="0%" stop-color="#00fffb"/><stop offset="100%" stop-color="#00ffa5"/></linearGradient><linearGradient id="g372" gradientUnits="userSpaceOnUse" x1="1197.2" y1="552.3" x2="1217.6" y2="494.6"><stop offset="0%" stop-color="#fcff00"/><stop offset="4.6%" stop-color="#ffff00"/><stop offset="100%" stop-color="#ffb800"/></linearGradient><linearGradient id="g373" gradientUnits="userSpaceOnUse" x1="1129.5" y1="594.2" x2="1149.1" y2="535.8"><stop offset="0%" stop-color="#afff00"/><stop offset="100%" stop-color="#fcff00"/></linearGradient><linearGradient id="g374" gradientUnits="userSpaceOnUse" x1="1061.6" y1="637.2" x2="1080.7" y2="578.1"><stop offset="0%" stop-color="#60ff00"/><stop offset="100%" stop-color="#afff00"/></linearGradient><linearGradient id="g375" gradientUnits="userSpaceOnUse" x1="993.6" y1="681.4" x2="1012.2" y2="621.5"><stop offset="0%" stop-color="#10ff00"/><stop offset="100%" stop-color="#60ff00"/></linearGradient><linearGradient id="g376" gradientUnits="userSpaceOnUse" x1="925.4" y1="726.8" x2="943.7" y2="666.1"><stop offset="0%" stop-color="#00ff44"/><stop offset="81.3%" stop-color="#00ff00"/><stop offset="100%" stop-color="#10ff00"/></linearGradient><linearGradient id="g377" gradientUnits="userSpaceOnUse" x1="857" y1="773.3" x2="875.2" y2="711.8"><stop offset="0%" stop-color="#00ff99"/><stop offset="100%" stop-color="#00ff44"/></linearGradient><linearGradient id="g378" gradientUnits="userSpaceOnUse" x1="788.6" y1="821" x2="806.7" y2="758.6"><stop offset="0%" stop-color="#00fff1"/><stop offset="100%" stop-color="#00ff99"/></linearGradient><linearGradient id="g379" gradientUnits="userSpaceOnUse" x1="1173" y1="592.5" x2="1192.4" y2="533.3"><stop offset="0%" stop-color="#c2ff00"/><stop offset="78.4%" stop-color="#ffff00"/><stop offset="100%" stop-color="#ffee00"/></linearGradient><linearGradient id="g380" gradientUnits="userSpaceOnUse" x1="1104.7" y1="636.6" x2="1123.6" y2="576.7"><stop offset="0%" stop-color="#71ff00"/><stop offset="100%" stop-color="#c2ff00"/></linearGradient><linearGradient id="g381" gradientUnits="userSpaceOnUse" x1="1036.2" y1="681.9" x2="1054.8" y2="621.2"><stop offset="0%" stop-color="#1fff00"/><stop offset="100%" stop-color="#71ff00"/></linearGradient><linearGradient id="g382" gradientUnits="userSpaceOnUse" x1="967.6" y1="728.4" x2="986" y2="666.8"><stop offset="0%" stop-color="#00ff36"/><stop offset="63.6%" stop-color="#00ff00"/><stop offset="100%" stop-color="#1fff00"/></linearGradient><linearGradient id="g383" gradientUnits="userSpaceOnUse" x1="898.9" y1="776" x2="917.1" y2="713.5"><stop offset="0%" stop-color="#00ff8d"/><stop offset="100%" stop-color="#00ff36"/></linearGradient><linearGradient id="g384" gradientUnits="userSpaceOnUse" x1="830.1" y1="824.8" x2="848.3" y2="761.4"><stop offset="0%" stop-color="#00ffe6"/><stop offset="100%" stop-color="#00ff8d"/></linearGradient><linearGradient id="g385" gradientUnits="userSpaceOnUse" x1="1148.3" y1="636.1" x2="1167.1" y2="575.2"><stop offset="0%" stop-color="#82ff00"/><stop offset="100%" stop-color="#d4ff00"/></linearGradient><linearGradient id="g386" gradientUnits="userSpaceOnUse" x1="1079.4" y1="682.5" x2="1097.9" y2="620.8"><stop offset="0%" stop-color="#2eff00"/><stop offset="100%" stop-color="#82ff00"/></linearGradient><linearGradient id="g387" gradientUnits="userSpaceOnUse" x1="1010.4" y1="730" x2="1028.7" y2="667.4"><stop offset="0%" stop-color="#00ff28"/><stop offset="46.4%" stop-color="#00ff00"/><stop offset="100%" stop-color="#2eff00"/></linearGradient><linearGradient id="g388" gradientUnits="userSpaceOnUse" x1="941.2" y1="778.7" x2="959.5" y2="715.3"><stop offset="0%" stop-color="#00ff81"/><stop offset="100%" stop-color="#00ff28"/></linearGradient><linearGradient id="g389" gradientUnits="userSpaceOnUse" x1="872" y1="828.6" x2="890.3" y2="764.2"><stop offset="0%" stop-color="#00ffdc"/><stop offset="100%" stop-color="#00ff81"/></linearGradient><linearGradient id="g390" gradientUnits="userSpaceOnUse" x1="1123" y1="683" x2="1141.5" y2="620.3"><stop offset="0%" stop-color="#3eff00"/><stop offset="100%" stop-color="#94ff00"/></linearGradient><linearGradient id="g391" gradientUnits="userSpaceOnUse" x1="1053.6" y1="731.7" x2="1072" y2="668.1"><stop offset="0%" stop-color="#00ff1a"/><stop offset="29.9%" stop-color="#00ff00"/><stop offset="100%" stop-color="#3eff00"/></linearGradient><linearGradient id="g392" gradientUnits="userSpaceOnUse" x1="984.1" y1="781.5" x2="1002.4" y2="717"><stop offset="0%" stop-color="#00ff75"/><stop offset="100%" stop-color="#00ff1a"/></linearGradient><linearGradient id="g393" gradientUnits="userSpaceOnUse" x1="914.4" y1="832.4" x2="932.8" y2="767"><stop offset="0%" stop-color="#00ffd1"/><stop offset="100%" stop-color="#00ff75"/></linearGradient><linearGradient id="g394" gradientUnits="userSpaceOnUse" x1="1097.3" y1="733.3" x2="1115.7" y2="668.7"><stop offset="0%" stop-color="#00ff0d"/><stop offset="14%" stop-color="#00ff00"/><stop offset="100%" stop-color="#4dff00"/></linearGradient><linearGradient id="g395" gradientUnits="userSpaceOnUse" x1="1027.4" y1="784.2" x2="1045.8" y2="718.7"><stop offset="0%" stop-color="#00ff68"/><stop offset="100%" stop-color="#00ff0d"/></linearGradient><linearGradient id="g396" gradientUnits="userSpaceOnUse" x1="957.3" y1="836.3" x2="975.8" y2="769.8"><stop offset="0%" stop-color="#00ffc7"/><stop offset="100%" stop-color="#00ff68"/></linearGradient><linearGradient id="g397" gradientUnits="userSpaceOnUse" x1="1071.2" y1="787" x2="1089.7" y2="720.4"><stop offset="0%" stop-color="#00ff5c"/><stop offset="98.6%" stop-color="#00ff00"/><stop offset="100%" stop-color="#01ff00"/></linearGradient><linearGradient id="g398" gradientUnits="userSpaceOnUse" x1="1000.7" y1="840.2" x2="1019.3" y2="772.6"><stop offset="0%" stop-color="#00ffbc"/><stop offset="100%" stop-color="#00ff5c"/></linearGradient><linearGradient id="g399" gradientUnits="userSpaceOnUse" x1="1044.6" y1="844.1" x2="1063.3" y2="775.5"><stop offset="0%" stop-color="#00ffb1"/><stop offset="100%" stop-color="#00ff50"/></linearGradient></defs>
<g stroke="#000" stroke-width="1.8" stroke-linejoin="round">
<path d="M757.3,512.9 790.8,502.4 813.4,512.2 780,523.2z" fill="url(#g0)"/>
<path d="M790.8,502.4 824.7,491.8 847.1,501.2 813.4,512.2z" fill="url(#g1)"/>
<path d="M734.3,504.6 768,494.7 790.8,502.4 757.3,512.9z" fill="url(#g2)"/>
<path d="M824.7,491.8 858.9,481.1 881.1,489.9 847.1,501.2z" fill="url(#g3)"/>
<path d="M768,494.7 802,484.6 824.7,491.8 790.8,502.4z" fill="url(#g4)"/>
<path d="M711,498.4 744.8,489 768,494.7 734.3,504.6z" fill="url(#g5)"/>
<path d="M858.9,481.1 893.6,470.3 915.6,478.6 881.1,489.9z" fill="url(#g6)"/>
<path d="M802,484.6 836.4,474.4 858.9,481.1 824.7,491.8z" fill="url(#g7)"/>
<path d="M744.8,489 778.9,479.5 802,484.6 768,494.7z" fill="url(#g8)"/>
<path d="M893.6,470.3 928.5,459.3 950.4,467.1 915.6,478.6z" fill="url(#g9)"/>
<path d="M687.3,494.4 721.2,485.6 744.8,489 711,498.4z" fill="url(#g10)"/>
<path d="M836.4,474.4 871.2,464.2 893.6,470.3 858.9,481.1z" fill="url(#g11)"/>
<path d="M778.9,479.5 813.5,469.9 836.4,474.4 802,484.6z" fill="url(#g12)"/>
<path d="M928.5,459.3 963.9,448.2 985.6,455.5 950.4,467.1z" fill="url(#g13)"/>
<path d="M721.2,485.6 755.5,476.7 778.9,479.5 744.8,489z" fill="url(#g14)"/>
<path d="M871.2,464.2 906.3,453.7 928.5,459.3 893.6,470.3z" fill="url(#g15)"/>
<path d="M663.2,492.6 697.3,484.4 721.2,485.6 687.3,494.4z" fill="url(#g16)"/>
<path d="M813.5,469.9 848.4,460.2 871.2,464.2 836.4,474.4z" fill="url(#g17)"/>
<path d="M963.9,448.2 999.7,437 1021.2,443.7 985.6,455.5z" fill="url(#g18)"/>
<path d="M755.5,476.7 790.2,467.7 813.5,469.9 778.9,479.5z" fill="url(#g19)"/>
<path d="M906.3,453.7 941.8,443.2 963.9,448.2 928.5,459.3z" fill="url(#g20)"/>
<path d="M697.3,484.4 731.8,476.1 755.5,476.7 721.2,485.6z" fill="url(#g21)"/>
<path d="M848.4,460.2 883.7,450.4 906.3,453.7 871.2,464.2z" fill="url(#g22)"/>
<path d="M999.7,437 1035.8,425.6 1057.2,431.8 1021.2,443.7z" fill="url(#g23)"/>
<path d="M638.9,493.1 673.1,485.5 697.3,484.4 663.2,492.6z" fill="url(#g24)"/>
<path d="M790.2,467.7 825.3,458.5 848.4,460.2 813.5,469.9z" fill="url(#g25)"/>
<path d="M941.8,443.2 977.8,432.5 999.7,437 963.9,448.2z" fill="url(#g26)"/>
<path d="M731.8,476.1 766.6,467.7 790.2,467.7 755.5,476.7z" fill="url(#g27)"/>
<path d="M883.7,450.4 919.4,440.4 941.8,443.2 906.3,453.7z" fill="url(#g28)"/>
<path d="M1035.8,425.6 1072.4,414.1 1093.6,419.7 1057.2,431.8z" fill="url(#g29)"/>
<path d="M673.1,485.5 707.7,477.8 731.8,476.1 697.3,484.4z" fill="url(#g30)"/>
<path d="M825.3,458.5 860.8,449.3 883.7,450.4 848.4,460.2z" fill="url(#g31)"/>
<path d="M977.8,432.5 1014.1,421.7 1035.8,425.6 999.7,437z" fill="url(#g32)"/>
<path d="M614.1,495.9 648.5,488.9 673.1,485.5 638.9,493.1z" fill="url(#g33)"/>
<path d="M766.6,467.7 801.9,459.2 825.3,458.5 790.2,467.7z" fill="url(#g34)"/>
<path d="M919.4,440.4 955.5,430.3 977.8,432.5 941.8,443.2z" fill="url(#g35)"/>
<path d="M1072.4,414.1 1109.4,402.4 1130.4,407.5 1093.6,419.7z" fill="url(#g36)"/>
<path d="M707.7,477.8 742.7,470 766.6,467.7 731.8,476.1z" fill="url(#g37)"/>
<path d="M860.8,449.3 896.6,439.9 919.4,440.4 883.7,450.4z" fill="url(#g38)"/>
<path d="M1014.1,421.7 1050.8,410.8 1072.4,414.1 1035.8,425.6z" fill="url(#g39)"/>
<path d="M648.5,488.9 683.3,481.9 707.7,477.8 673.1,485.5z" fill="url(#g40)"/>
<path d="M801.9,459.2 837.5,450.5 860.8,449.3 825.3,458.5z" fill="url(#g41)"/>
<path d="M955.5,430.3 992,420.1 1014.1,421.7 977.8,432.5z" fill="url(#g42)"/>
<path d="M589.1,501.1 623.6,494.8 648.5,488.9 614.1,495.9z" fill="url(#g43)"/>
<path d="M1109.4,402.4 1146.8,390.6 1167.6,395.1 1130.4,407.5z" fill="url(#g44)"/>
<path d="M742.7,470 778.1,462.1 801.9,459.2 766.6,467.7z" fill="url(#g45)"/>
<path d="M896.6,439.9 932.9,430.4 955.5,430.3 919.4,440.4z" fill="url(#g46)"/>
<path d="M1050.8,410.8 1088,399.7 1109.4,402.4 1072.4,414.1z" fill="url(#g47)"/>
<path d="M683.3,481.9 718.4,474.8 742.7,470 707.7,477.8z" fill="url(#g48)"/>
<path d="M837.5,450.5 873.5,441.8 896.6,439.9 860.8,449.3z" fill="url(#g49)"/>
<path d="M992,420.1 1028.9,409.8 1050.8,410.8 1014.1,421.7z" fill="url(#g50)"/>
<path d="M623.6,494.8 658.5,488.4 683.3,481.9 648.5,488.9z" fill="url(#g51)"/>
<path d="M1146.8,390.6 1184.6,378.7 1205.3,382.6 1167.6,395.1z" fill="url(#g52)"/>
<path d="M778.1,462.1 813.8,454.2 837.5,450.5 801.9,459.2z" fill="url(#g53)"/>
<path d="M563.8,508.7 598.4,503.1 623.6,494.8 589.1,501.1z" fill="url(#g54)"/>
<path d="M932.9,430.4 969.5,420.8 992,420.1 955.5,430.3z" fill="url(#g55)"/>
<path d="M1088,399.7 1125.5,388.5 1146.8,390.6 1109.4,402.4z" fill="url(#g56)"/>
<path d="M718.4,474.8 753.9,467.6 778.1,462.1 742.7,470z" fill="url(#g57)"/>
<path d="M873.5,441.8 909.9,432.9 932.9,430.4 896.6,439.9z" fill="url(#g58)"/>
<path d="M658.5,488.4 693.8,482 718.4,474.8 683.3,481.9z" fill="url(#g59)"/>
<path d="M1028.9,409.8 1066.2,399.3 1088,399.7 1050.8,410.8z" fill="url(#g60)"/>
<path d="M1184.6,378.7 1222.8,366.6 1243.3,369.9 1205.3,382.6z" fill="url(#g61)"/>
<path d="M813.8,454.2 850,446.1 873.5,441.8 837.5,450.5z" fill="url(#g62)"/>
<path d="M598.4,503.1 633.4,497.4 658.5,488.4 623.6,494.8z" fill="url(#g63)"/>
<path d="M969.5,420.8 1006.6,411.1 1028.9,409.8 992,420.1z" fill="url(#g64)"/>
<path d="M753.9,467.6 789.8,460.2 813.8,454.2 778.1,462.1z" fill="url(#g65)"/>
<path d="M1125.5,388.5 1163.5,377.1 1184.6,378.7 1146.8,390.6z" fill="url(#g66)"/>
<path d="M538.1,518.8 572.9,513.9 598.4,503.1 563.8,508.7z" fill="url(#g67)"/>
<path d="M909.9,432.9 946.7,424 969.5,420.8 932.9,430.4z" fill="url(#g68)"/>
<path d="M693.8,482 729.5,475.4 753.9,467.6 718.4,474.8z" fill="url(#g69)"/>
<path d="M1066.2,399.3 1103.9,388.7 1125.5,388.5 1088,399.7z" fill="url(#g70)"/>
<path d="M850,446.1 886.5,437.9 909.9,432.9 873.5,441.8z" fill="url(#g71)"/>
<path d="M1222.8,366.6 1261.5,354.3 1281.9,357 1243.3,369.9z" fill="url(#g72)"/>
<path d="M633.4,497.4 668.9,491.7 693.8,482 658.5,488.4z" fill="url(#g73)"/>
<path d="M1006.6,411.1 1044,401.3 1066.2,399.3 1028.9,409.8z" fill="url(#g74)"/>
<path d="M789.8,460.2 826.1,452.8 850,446.1 813.8,454.2z" fill="url(#g75)"/>
<path d="M1163.5,377.1 1201.9,365.6 1222.8,366.6 1184.6,378.7z" fill="url(#g76)"/>
<path d="M572.9,513.9 608,508.9 633.4,497.4 598.4,503.1z" fill="url(#g77)"/>
<path d="M946.7,424 983.9,414.9 1006.6,411.1 969.5,420.8z" fill="url(#g78)"/>
<path d="M729.5,475.4 765.5,468.8 789.8,460.2 753.9,467.6z" fill="url(#g79)"/>
<path d="M512.1,531.4 547,527.2 572.9,513.9 538.1,518.8z" fill="url(#g80)"/>
<path d="M1103.9,388.7 1142.1,377.9 1163.5,377.1 1125.5,388.5z" fill="url(#g81)"/>
<path d="M886.5,437.9 923.5,429.6 946.7,424 909.9,432.9z" fill="url(#g82)"/>
<path d="M1261.5,354.3 1300.7,341.9 1320.8,344 1281.9,357z" fill="url(#g83)"/>
<path d="M668.9,491.7 704.6,485.8 729.5,475.4 693.8,482z" fill="url(#g84)"/>
<path d="M1044,401.3 1081.9,391.3 1103.9,388.7 1066.2,399.3z" fill="url(#g85)"/>
<path d="M826.1,452.8 862.8,445.3 886.5,437.9 850,446.1z" fill="url(#g86)"/>
<path d="M608,508.9 643.6,503.9 668.9,491.7 633.4,497.4z" fill="url(#g87)"/>
<path d="M1201.9,365.6 1240.8,353.9 1261.5,354.3 1222.8,366.6z" fill="url(#g88)"/>
<path d="M983.9,414.9 1021.5,405.7 1044,401.3 1006.6,411.1z" fill="url(#g89)"/>
<path d="M765.5,468.8 801.9,462.1 826.1,452.8 789.8,460.2z" fill="url(#g90)"/>
<path d="M547,527.2 582.3,523 608,508.9 572.9,513.9z" fill="url(#g91)"/>
<path d="M1142.1,377.9 1180.7,367 1201.9,365.6 1163.5,377.1z" fill="url(#g92)"/>
<path d="M923.5,429.6 960.8,421.2 983.9,414.9 946.7,424z" fill="url(#g93)"/>
<path d="M704.6,485.8 740.8,479.9 765.5,468.8 729.5,475.4z" fill="url(#g94)"/>
<path d="M1300.7,341.9 1340.3,329.3 1360.2,330.9 1320.8,344z" fill="url(#g95)"/>
<path d="M485.8,546.6 520.8,543.2 547,527.2 512.1,531.4z" fill="url(#g96)"/>
<path d="M1081.9,391.3 1120.2,381.2 1142.1,377.9 1103.9,388.7z" fill="url(#g97)"/>
<path d="M862.8,445.3 899.9,437.7 923.5,429.6 886.5,437.9z" fill="url(#g98)"/>
<path d="M643.6,503.9 679.5,498.8 704.6,485.8 668.9,491.7z" fill="url(#g99)"/>
<path d="M1240.8,353.9 1280.1,342.1 1300.7,341.9 1261.5,354.3z" fill="url(#g100)"/>
<path d="M1021.5,405.7 1059.6,396.4 1081.9,391.3 1044,401.3z" fill="url(#g101)"/>
<path d="M801.9,462.1 838.8,455.3 862.8,445.3 826.1,452.8z" fill="url(#g102)"/>
<path d="M582.3,523 618,518.7 643.6,503.9 608,508.9z" fill="url(#g103)"/>
<path d="M1180.7,367 1219.7,356 1240.8,353.9 1201.9,365.6z" fill="url(#g104)"/>
<path d="M960.8,421.2 998.6,412.7 1021.5,405.7 983.9,414.9z" fill="url(#g105)"/>
<path d="M740.8,479.9 777.4,473.9 801.9,462.1 765.5,468.8z" fill="url(#g106)"/>
<path d="M520.8,543.2 556.2,539.7 582.3,523 547,527.2z" fill="url(#g107)"/>
<path d="M1340.3,329.3 1380.3,316.6 1400.1,317.5 1360.2,330.9z" fill="url(#g108)"/>
<path d="M1120.2,381.2 1159,371 1180.7,367 1142.1,377.9z" fill="url(#g109)"/>
<path d="M899.9,437.7 937.4,430 960.8,421.2 923.5,429.6z" fill="url(#g110)"/>
<path d="M459.2,564.4 494.3,561.8 520.8,543.2 485.8,546.6z" fill="url(#g111)"/>
<path d="M679.5,498.8 715.8,493.6 740.8,479.9 704.6,485.8z" fill="url(#g112)"/>
<path d="M1280.1,342.1 1319.9,330.2 1340.3,329.3 1300.7,341.9z" fill="url(#g113)"/>
<path d="M1059.6,396.4 1098,387 1120.2,381.2 1081.9,391.3z" fill="url(#g114)"/>
<path d="M838.8,455.3 876,448.4 899.9,437.7 862.8,445.3z" fill="url(#g115)"/>
<path d="M618,518.7 654,514.4 679.5,498.8 643.6,503.9z" fill="url(#g116)"/>
<path d="M1219.7,356 1259.2,344.9 1280.1,342.1 1240.8,353.9z" fill="url(#g117)"/>
<path d="M998.6,412.7 1036.8,404.1 1059.6,396.4 1021.5,405.7z" fill="url(#g118)"/>
<path d="M556.2,539.7 592,536.2 618,518.7 582.3,523z" fill="url(#g119)"/>
<path d="M777.4,473.9 814.4,467.9 838.8,455.3 801.9,462.1z" fill="url(#g120)"/>
<path d="M1380.3,316.6 1420.8,303.7 1440.4,304 1400.1,317.5z" fill="url(#g121)"/>
<path d="M1159,371 1198.2,360.6 1219.7,356 1180.7,367z" fill="url(#g122)"/>
<path d="M494.3,561.8 529.9,559.1 556.2,539.7 520.8,543.2z" fill="url(#g123)"/>
<path d="M937.4,430 975.4,422.2 998.6,412.7 960.8,421.2z" fill="url(#g124)"/>
<path d="M715.8,493.6 752.5,488.4 777.4,473.9 740.8,479.9z" fill="url(#g125)"/>
<path d="M1319.9,330.2 1360.1,318.1 1380.3,316.6 1340.3,329.3z" fill="url(#g126)"/>
<path d="M432.3,584.9 467.5,583.1 494.3,561.8 459.2,564.4z" fill="url(#g127)"/>
<path d="M1098,387 1137,377.4 1159,371 1120.2,381.2z" fill="url(#g128)"/>
<path d="M654,514.4 690.5,510 715.8,493.6 679.5,498.8z" fill="url(#g129)"/>
<path d="M876,448.4 913.7,441.4 937.4,430 899.9,437.7z" fill="url(#g130)"/>
<path d="M1259.2,344.9 1299.1,333.6 1319.9,330.2 1280.1,342.1z" fill="url(#g131)"/>
<path d="M592,536.2 628.2,532.7 654,514.4 618,518.7z" fill="url(#g132)"/>
<path d="M1036.8,404.1 1075.5,395.3 1098,387 1059.6,396.4z" fill="url(#g133)"/>
<path d="M814.4,467.9 851.8,461.7 876,448.4 838.8,455.3z" fill="url(#g134)"/>
<path d="M1420.8,303.7 1461.9,290.6 1481.3,290.3 1440.4,304z" fill="url(#g135)"/>
<path d="M529.9,559.1 565.8,556.4 592,536.2 556.2,539.7z" fill="url(#g136)"/>
<path d="M1198.2,360.6 1237.9,350.1 1259.2,344.9 1219.7,356z" fill="url(#g137)"/>
<path d="M752.5,488.4 789.6,483.1 814.4,467.9 777.4,473.9z" fill="url(#g138)"/>
<path d="M975.4,422.2 1013.7,414.3 1036.8,404.1 998.6,412.7z" fill="url(#g139)"/>
<path d="M467.5,583.1 503.2,581.2 529.9,559.1 494.3,561.8z" fill="url(#g140)"/>
<path d="M1360.1,318.1 1400.9,305.8 1420.8,303.7 1380.3,316.6z" fill="url(#g141)"/>
<path d="M690.5,510 727.3,505.5 752.5,488.4 715.8,493.6z" fill="url(#g142)"/>
<path d="M1137,377.4 1176.3,367.8 1198.2,360.6 1159,371z" fill="url(#g143)"/>
<path d="M913.7,441.4 951.8,434.4 975.4,422.2 937.4,430z" fill="url(#g144)"/>
<path d="M405,608.1 440.5,607.1 467.5,583.1 432.3,584.9z" fill="url(#g145)"/>
<path d="M628.2,532.7 664.8,529 690.5,510 654,514.4z" fill="url(#g146)"/>
<path d="M1299.1,333.6 1339.6,322.1 1360.1,318.1 1319.9,330.2z" fill="url(#g147)"/>
<path d="M851.8,461.7 889.6,455.5 913.7,441.4 876,448.4z" fill="url(#g148)"/>
<path d="M1075.5,395.3 1114.6,386.5 1137,377.4 1098,387z" fill="url(#g149)"/>
<path d="M565.8,556.4 602.1,553.6 628.2,532.7 592,536.2z" fill="url(#g150)"/>
<path d="M1461.9,290.6 1503.4,277.3 1522.6,276.4 1481.3,290.3z" fill="url(#g151)"/>
<path d="M789.6,483.1 827.2,477.7 851.8,461.7 814.4,467.9z" fill="url(#g152)"/>
<path d="M1237.9,350.1 1278,339.5 1299.1,333.6 1259.2,344.9z" fill="url(#g153)"/>
<path d="M1013.7,414.3 1052.5,406.3 1075.5,395.3 1036.8,404.1z" fill="url(#g154)"/>
<path d="M503.2,581.2 539.3,579.3 565.8,556.4 529.9,559.1z" fill="url(#g155)"/>
<path d="M727.3,505.5 764.6,501 789.6,483.1 752.5,488.4z" fill="url(#g156)"/>
<path d="M1400.9,305.8 1442,293.4 1461.9,290.6 1420.8,303.7z" fill="url(#g157)"/>
<path d="M951.8,434.4 990.3,427.2 1013.7,414.3 975.4,422.2z" fill="url(#g158)"/>
<path d="M1176.3,367.8 1216.2,358 1237.9,350.1 1198.2,360.6z" fill="url(#g159)"/>
<path d="M440.5,607.1 476.2,606.1 503.2,581.2 467.5,583.1z" fill="url(#g160)"/>
<path d="M664.8,529 701.8,525.4 727.3,505.5 690.5,510z" fill="url(#g161)"/>
<path d="M889.6,455.5 927.8,449.2 951.8,434.4 913.7,441.4z" fill="url(#g162)"/>
<path d="M377.6,634 413.1,633.9 440.5,607.1 405,608.1z" fill="url(#g163)"/>
<path d="M1339.6,322.1 1380.5,310.5 1400.9,305.8 1360.1,318.1z" fill="url(#g164)"/>
<path d="M1114.6,386.5 1154.1,377.5 1176.3,367.8 1137,377.4z" fill="url(#g165)"/>
<path d="M602.1,553.6 638.8,550.8 664.8,529 628.2,532.7z" fill="url(#g166)"/>
<path d="M827.2,477.7 865.1,472.2 889.6,455.5 851.8,461.7z" fill="url(#g167)"/>
<path d="M1052.5,406.3 1091.8,398.2 1114.6,386.5 1075.5,395.3z" fill="url(#g168)"/>
<path d="M1278,339.5 1318.6,328.7 1339.6,322.1 1299.1,333.6z" fill="url(#g169)"/>
<path d="M539.3,579.3 575.7,577.4 602.1,553.6 565.8,556.4z" fill="url(#g170)"/>
<path d="M764.6,501 802.2,496.4 827.2,477.7 789.6,483.1z" fill="url(#g171)"/>
<path d="M990.3,427.2 1029.2,419.9 1052.5,406.3 1013.7,414.3z" fill="url(#g172)"/>
<path d="M476.2,606.1 512.4,605 539.3,579.3 503.2,581.2z" fill="url(#g173)"/>
<path d="M1442,293.4 1483.7,280.8 1503.4,277.3 1461.9,290.6z" fill="url(#g174)"/>
<path d="M1216.2,358 1256.5,348 1278,339.5 1237.9,350.1z" fill="url(#g175)"/>
<path d="M701.8,525.4 739.2,521.7 764.6,501 727.3,505.5z" fill="url(#g176)"/>
<path d="M413.1,633.9 449,633.8 476.2,606.1 440.5,607.1z" fill="url(#g177)"/>
<path d="M927.8,449.2 966.5,442.8 990.3,427.2 951.8,434.4z" fill="url(#g178)"/>
<path d="M1154.1,377.5 1194.1,368.4 1216.2,358 1176.3,367.8z" fill="url(#g179)"/>
<path d="M1380.5,310.5 1421.8,298.7 1442,293.4 1400.9,305.8z" fill="url(#g180)"/>
<path d="M638.8,550.8 675.9,548 701.8,525.4 664.8,529z" fill="url(#g181)"/>
<path d="M349.8,662.8 385.4,663.5 413.1,633.9 377.6,634z" fill="url(#g182)"/>
<path d="M865.1,472.2 903.5,466.7 927.8,449.2 889.6,455.5z" fill="url(#g183)"/>
<path d="M1091.8,398.2 1131.5,389.9 1154.1,377.5 1114.6,386.5z" fill="url(#g184)"/>
<path d="M575.7,577.4 612.5,575.4 638.8,550.8 602.1,553.6z" fill="url(#g185)"/>
<path d="M1318.6,328.7 1359.7,317.8 1380.5,310.5 1339.6,322.1z" fill="url(#g186)"/>
<path d="M802.2,496.4 840.3,491.8 865.1,472.2 827.2,477.7z" fill="url(#g187)"/>
<path d="M512.4,605 549,604 575.7,577.4 539.3,579.3z" fill="url(#g188)"/>
<path d="M1029.2,419.9 1068.6,412.6 1091.8,398.2 1052.5,406.3z" fill="url(#g189)"/>
<path d="M1256.5,348 1297.2,338 1318.6,328.7 1278,339.5z" fill="url(#g190)"/>
<path d="M739.2,521.7 777,517.9 802.2,496.4 764.6,501z" fill="url(#g191)"/>
<path d="M449,633.8 485.3,633.6 512.4,605 476.2,606.1z" fill="url(#g192)"/>
<path d="M966.5,442.8 1005.6,436.3 1029.2,419.9 990.3,427.2z" fill="url(#g193)"/>
<path d="M1194.1,368.4 1234.5,359.2 1256.5,348 1216.2,358z" fill="url(#g194)"/>
<path d="M385.4,663.5 421.4,664.3 449,633.8 413.1,633.9z" fill="url(#g195)"/>
<path d="M675.9,548 713.4,545.1 739.2,521.7 701.8,525.4z" fill="url(#g196)"/>
<path d="M1421.8,298.7 1463.7,286.8 1483.7,280.8 1442,293.4z" fill="#ff0000"/>
<path d="M903.5,466.7 942.3,461.1 966.5,442.8 927.8,449.2z" fill="url(#g198)"/>
<path d="M321.8,694.4 357.5,696.1 385.4,663.5 349.8,662.8z" fill="url(#g199)"/>
<path d="M612.5,575.4 649.7,573.5 675.9,548 638.8,550.8z" fill="url(#g200)"/>
<path d="M1131.5,389.9 1171.6,381.6 1194.1,368.4 1154.1,377.5z" fill="url(#g201)"/>
<path d="M1359.7,317.8 1401.2,306.7 1421.8,298.7 1380.5,310.5z" fill="url(#g202)"/>
<path d="M840.3,491.8 878.8,487 903.5,466.7 865.1,472.2z" fill="url(#g203)"/>
<path d="M549,604 585.9,602.9 612.5,575.4 575.7,577.4z" fill="url(#g204)"/>
<path d="M1068.6,412.6 1108.5,405.1 1131.5,389.9 1091.8,398.2z" fill="url(#g205)"/>
<path d="M1297.2,338 1338.5,327.8 1359.7,317.8 1318.6,328.7z" fill="url(#g206)"/>
<path d="M485.3,633.6 521.9,633.4 549,604 512.4,605z" fill="url(#g207)"/>
<path d="M777,517.9 815.2,514.1 840.3,491.8 802.2,496.4z" fill="url(#g208)"/>
<path d="M1005.6,436.3 1045.1,429.7 1068.6,412.6 1029.2,419.9z" fill="url(#g209)"/>
<path d="M421.4,664.3 457.8,665 485.3,633.6 449,633.8z" fill="url(#g210)"/>
<path d="M713.4,545.1 751.3,542.2 777,517.9 739.2,521.7z" fill="url(#g211)"/>
<path d="M1234.5,359.2 1275.5,349.9 1297.2,338 1256.5,348z" fill="url(#g212)"/>
<path d="M357.5,696.1 393.6,697.7 421.4,664.3 385.4,663.5z" fill="url(#g213)"/>
<path d="M942.3,461.1 981.5,455.4 1005.6,436.3 966.5,442.8z" fill="url(#g214)"/>
<path d="M649.7,573.5 687.4,571.4 713.4,545.1 675.9,548z" fill="url(#g215)"/>
<path d="M1171.6,381.6 1212.2,373.2 1234.5,359.2 1194.1,368.4z" fill="url(#g216)"/>
<path d="M293.5,728.9 329.3,731.5 357.5,696.1 321.8,694.4z" fill="url(#g217)"/>
<path d="M1401.2,306.7 1443.3,295.5 1463.7,286.8 1421.8,298.7z" fill="#ff0000"/>
<path d="M878.8,487 917.8,482.2 942.3,461.1 903.5,466.7z" fill="url(#g219)"/>
<path d="M585.9,602.9 623.2,601.8 649.7,573.5 612.5,575.4z" fill="url(#g220)"/>
<path d="M1108.5,405.1 1148.8,397.5 1171.6,381.6 1131.5,389.9z" fill="url(#g221)"/>
<path d="M521.9,633.4 559,633.2 585.9,602.9 549,604z" fill="url(#g222)"/>
<path d="M815.2,514.1 853.8,510.2 878.8,487 840.3,491.8z" fill="url(#g223)"/>
<path d="M1338.5,327.8 1380.2,317.4 1401.2,306.7 1359.7,317.8z" fill="url(#g224)"/>
<path d="M457.8,665 494.6,665.7 521.9,633.4 485.3,633.6z" fill="url(#g225)"/>
<path d="M1045.1,429.7 1085.1,423 1108.5,405.1 1068.6,412.6z" fill="url(#g226)"/>
<path d="M751.3,542.2 789.7,539.2 815.2,514.1 777,517.9z" fill="url(#g227)"/>
<path d="M1275.5,349.9 1316.9,340.4 1338.5,327.8 1297.2,338z" fill="url(#g228)"/>
<path d="M393.6,697.7 430.1,699.3 457.8,665 421.4,664.3z" fill="url(#g229)"/>
<path d="M981.5,455.4 1021.2,449.6 1045.1,429.7 1005.6,436.3z" fill="url(#g230)"/>
<path d="M687.4,571.4 725.4,569.4 751.3,542.2 713.4,545.1z" fill="url(#g231)"/>
<path d="M329.3,731.5 365.5,734.1 393.6,697.7 357.5,696.1z" fill="url(#g232)"/>
<path d="M1212.2,373.2 1253.3,364.6 1275.5,349.9 1234.5,359.2z" fill="url(#g233)"/>
<path d="M623.2,601.8 661,600.6 687.4,571.4 649.7,573.5z" fill="url(#g234)"/>
<path d="M264.9,766.4 300.9,769.9 329.3,731.5 293.5,728.9z" fill="url(#g235)"/>
<path d="M917.8,482.2 957.1,477.4 981.5,455.4 942.3,461.1z" fill="url(#g236)"/>
<path d="M559,633.2 596.4,633 623.2,601.8 585.9,602.9z" fill="url(#g237)"/>
<path d="M1148.8,397.5 1189.5,389.9 1212.2,373.2 1171.6,381.6z" fill="url(#g238)"/>
<path d="M853.8,510.2 892.9,506.2 917.8,482.2 878.8,487z" fill="url(#g239)"/>
<path d="M1380.2,317.4 1422.4,306.9 1443.3,295.5 1401.2,306.7z" fill="#ff0000"/>
<path d="M494.6,665.7 531.8,666.4 559,633.2 521.9,633.4z" fill="url(#g241)"/>
<path d="M1085.1,423 1125.5,416.3 1148.8,397.5 1108.5,405.1z" fill="url(#g242)"/>
<path d="M789.7,539.2 828.5,536.2 853.8,510.2 815.2,514.1z" fill="url(#g243)"/>
<path d="M430.1,699.3 467,701 494.6,665.7 457.8,665z" fill="url(#g244)"/>
<path d="M1316.9,340.4 1358.8,330.9 1380.2,317.4 1338.5,327.8z" fill="url(#g245)"/>
<path d="M725.4,569.4 763.9,567.3 789.7,539.2 751.3,542.2z" fill="url(#g246)"/>
<path d="M365.5,734.1 402.1,736.6 430.1,699.3 393.6,697.7z" fill="url(#g247)"/>
<path d="M1021.2,449.6 1061.3,443.8 1085.1,423 1045.1,429.7z" fill="url(#g248)"/>
<path d="M300.9,769.9 337.2,773.4 365.5,734.1 329.3,731.5z" fill="url(#g249)"/>
<path d="M661,600.6 699.2,599.4 725.4,569.4 687.4,571.4z" fill="url(#g250)"/>
<path d="M1253.3,364.6 1294.9,355.9 1316.9,340.4 1275.5,349.9z" fill="url(#g251)"/>
<path d="M957.1,477.4 996.9,472.4 1021.2,449.6 981.5,455.4z" fill="url(#g252)"/>
<path d="M596.4,633 634.3,632.7 661,600.6 623.2,601.8z" fill="url(#g253)"/>
<path d="M1189.5,389.9 1230.8,382.1 1253.3,364.6 1212.2,373.2z" fill="url(#g254)"/>
<path d="M892.9,506.2 932.4,502.2 957.1,477.4 917.8,482.2z" fill="url(#g255)"/>
<path d="M531.8,666.4 569.3,667.1 596.4,633 559,633.2z" fill="url(#g256)"/>
<path d="M828.5,536.2 867.7,533.1 892.9,506.2 853.8,510.2z" fill="url(#g257)"/>
<path d="M1125.5,416.3 1166.5,409.4 1189.5,389.9 1148.8,397.5z" fill="url(#g258)"/>
<path d="M467,701 504.3,702.6 531.8,666.4 494.6,665.7z" fill="url(#g259)"/>
<path d="M402.1,736.6 439.1,739.2 467,701 430.1,699.3z" fill="url(#g260)"/>
<path d="M763.9,567.3 802.8,565.1 828.5,536.2 789.7,539.2z" fill="url(#g261)"/>
<path d="M1358.8,330.9 1401.2,321.2 1422.4,306.9 1380.2,317.4z" fill="#ff0000"/>
<path d="M1061.3,443.8 1101.9,437.9 1125.5,416.3 1085.1,423z" fill="url(#g263)"/>
<path d="M337.2,773.4 373.9,776.9 402.1,736.6 365.5,734.1z" fill="url(#g264)"/>
<path d="M699.2,599.4 737.7,598.2 763.9,567.3 725.4,569.4z" fill="url(#g265)"/>
<path d="M1294.9,355.9 1337,347.1 1358.8,330.9 1316.9,340.4z" fill="url(#g266)"/>
<path d="M996.9,472.4 1037.2,467.4 1061.3,443.8 1021.2,449.6z" fill="url(#g267)"/>
<path d="M634.3,632.7 672.6,632.5 699.2,599.4 661,600.6z" fill="url(#g268)"/>
<path d="M932.4,502.2 972.3,498.1 996.9,472.4 957.1,477.4z" fill="url(#g269)"/>
<path d="M1230.8,382.1 1272.5,374.2 1294.9,355.9 1253.3,364.6z" fill="url(#g270)"/>
<path d="M569.3,667.1 607.3,667.8 634.3,632.7 596.4,633z" fill="url(#g271)"/>
<path d="M504.3,702.6 542,704.3 569.3,667.1 531.8,666.4z" fill="url(#g272)"/>
<path d="M867.7,533.1 907.3,530 932.4,502.2 892.9,506.2z" fill="url(#g273)"/>
<path d="M1166.5,409.4 1207.9,402.5 1230.8,382.1 1189.5,389.9z" fill="url(#g274)"/>
<path d="M439.1,739.2 476.5,741.8 504.3,702.6 467,701z" fill="url(#g275)"/>
<path d="M802.8,565.1 842.1,562.9 867.7,533.1 828.5,536.2z" fill="url(#g276)"/>
<path d="M373.9,776.9 411,780.5 439.1,739.2 402.1,736.6z" fill="url(#g277)"/>
<path d="M1101.9,437.9 1143,431.8 1166.5,409.4 1125.5,416.3z" fill="url(#g278)"/>
<path d="M737.7,598.2 776.8,597 802.8,565.1 763.9,567.3z" fill="url(#g279)"/>
<path d="M1037.2,467.4 1078,462.4 1101.9,437.9 1061.3,443.8z" fill="url(#g280)"/>
<path d="M1337,347.1 1379.5,338.2 1401.2,321.2 1358.8,330.9z" fill="url(#g281)"/>
<path d="M672.6,632.5 711.3,632.2 737.7,598.2 699.2,599.4z" fill="url(#g282)"/>
<path d="M607.3,667.8 645.7,668.5 672.6,632.5 634.3,632.7z" fill="url(#g283)"/>
<path d="M972.3,498.1 1012.8,494 1037.2,467.4 996.9,472.4z" fill="url(#g284)"/>
<path d="M1272.5,374.2 1314.7,366.2 1337,347.1 1294.9,355.9z" fill="url(#g285)"/>
<path d="M542,704.3 580.1,705.9 607.3,667.8 569.3,667.1z" fill="url(#g286)"/>
<path d="M907.3,530 947.4,526.8 972.3,498.1 932.4,502.2z" fill="url(#g287)"/>
<path d="M476.5,741.8 514.3,744.5 542,704.3 504.3,702.6z" fill="url(#g288)"/>
<path d="M1207.9,402.5 1249.8,395.4 1272.5,374.2 1230.8,382.1z" fill="url(#g289)"/>
<path d="M842.1,562.9 881.9,560.7 907.3,530 867.7,533.1z" fill="url(#g290)"/>
<path d="M411,780.5 448.5,784.1 476.5,741.8 439.1,739.2z" fill="url(#g291)"/>
<path d="M1143,431.8 1184.6,425.7 1207.9,402.5 1166.5,409.4z" fill="url(#g292)"/>
<path d="M776.8,597 816.2,595.7 842.1,562.9 802.8,565.1z" fill="url(#g293)"/>
<path d="M1078,462.4 1119.2,457.2 1143,431.8 1101.9,437.9z" fill="url(#g294)"/>
<path d="M711.3,632.2 750.4,631.9 776.8,597 737.7,598.2z" fill="url(#g295)"/>
<path d="M645.7,668.5 684.5,669.2 711.3,632.2 672.6,632.5z" fill="url(#g296)"/>
<path d="M1012.8,494 1053.6,489.8 1078,462.4 1037.2,467.4z" fill="url(#g297)"/>
<path d="M1314.7,366.2 1357.5,358.1 1379.5,338.2 1337,347.1z" fill="url(#g298)"/>
<path d="M580.1,705.9 618.6,707.6 645.7,668.5 607.3,667.8z" fill="url(#g299)"/>
<path d="M947.4,526.8 987.9,523.6 1012.8,494 972.3,498.1z" fill="url(#g300)"/>
<path d="M514.3,744.5 552.5,747.1 580.1,705.9 542,704.3z" fill="url(#g301)"/>
<path d="M1249.8,395.4 1292.1,388.3 1314.7,366.2 1272.5,374.2z" fill="url(#g302)"/>
<path d="M448.5,784.1 486.4,787.7 514.3,744.5 476.5,741.8z" fill="url(#g303)"/>
<path d="M881.9,560.7 922.1,558.4 947.4,526.8 907.3,530z" fill="url(#g304)"/>
<path d="M1184.6,425.7 1226.6,419.5 1249.8,395.4 1207.9,402.5z" fill="url(#g305)"/>
<path d="M816.2,595.7 856.1,594.5 881.9,560.7 842.1,562.9z" fill="url(#g306)"/>
<path d="M750.4,631.9 790,631.6 816.2,595.7 776.8,597z" fill="url(#g307)"/>
<path d="M1119.2,457.2 1160.9,452 1184.6,425.7 1143,431.8z" fill="url(#g308)"/>
<path d="M684.5,669.2 723.8,669.9 750.4,631.9 711.3,632.2z" fill="url(#g309)"/>
<path d="M1053.6,489.8 1095,485.5 1119.2,457.2 1078,462.4z" fill="url(#g310)"/>
<path d="M618.6,707.6 657.5,709.3 684.5,669.2 645.7,668.5z" fill="url(#g311)"/>
<path d="M552.5,747.1 591.1,749.7 618.6,707.6 580.1,705.9z" fill="url(#g312)"/>
<path d="M987.9,523.6 1028.9,520.3 1053.6,489.8 1012.8,494z" fill="url(#g313)"/>
<path d="M486.4,787.7 524.6,791.3 552.5,747.1 514.3,744.5z" fill="url(#g314)"/>
<path d="M1292.1,388.3 1335,381 1357.5,358.1 1314.7,366.2z" fill="url(#g315)"/>
<path d="M922.1,558.4 962.7,556.1 987.9,523.6 947.4,526.8z" fill="url(#g316)"/>
<path d="M856.1,594.5 896.4,593.1 922.1,558.4 881.9,560.7z" fill="url(#g317)"/>
<path d="M1226.6,419.5 1269.1,413.3 1292.1,388.3 1249.8,395.4z" fill="url(#g318)"/>
<path d="M790,631.6 830,631.3 856.1,594.5 816.2,595.7z" fill="url(#g319)"/>
<path d="M1160.9,452 1203.1,446.7 1226.6,419.5 1184.6,425.7z" fill="url(#g320)"/>
<path d="M723.8,669.9 763.4,670.5 790,631.6 750.4,631.9z" fill="url(#g321)"/>
<path d="M1095,485.5 1136.8,481.2 1160.9,452 1119.2,457.2z" fill="url(#g322)"/>
<path d="M657.5,709.3 696.8,710.9 723.8,669.9 684.5,669.2z" fill="url(#g323)"/>
<path d="M591.1,749.7 630.1,752.4 657.5,709.3 618.6,707.6z" fill="url(#g324)"/>
<path d="M1028.9,520.3 1070.4,516.9 1095,485.5 1053.6,489.8z" fill="url(#g325)"/>
<path d="M524.6,791.3 563.4,795 591.1,749.7 552.5,747.1z" fill="url(#g326)"/>
<path d="M962.7,556.1 1003.9,553.8 1028.9,520.3 987.9,523.6z" fill="url(#g327)"/>
<path d="M896.4,593.1 937.2,591.8 962.7,556.1 922.1,558.4z" fill="url(#g328)"/>
<path d="M1269.1,413.3 1312.2,406.9 1335,381 1292.1,388.3z" fill="url(#g329)"/>
<path d="M830,631.3 870.4,630.9 896.4,593.1 856.1,594.5z" fill="url(#g330)"/>
<path d="M1203.1,446.7 1245.7,441.3 1269.1,413.3 1226.6,419.5z" fill="url(#g331)"/>
<path d="M763.4,670.5 803.6,671.2 830,631.3 790,631.6z" fill="url(#g332)"/>
<path d="M696.8,710.9 736.6,712.6 763.4,670.5 723.8,669.9z" fill="url(#g333)"/>
<path d="M1136.8,481.2 1179.1,476.8 1203.1,446.7 1160.9,452z" fill="url(#g334)"/>
<path d="M630.1,752.4 669.6,755.1 696.8,710.9 657.5,709.3z" fill="url(#g335)"/>
<path d="M563.4,795 602.5,798.7 630.1,752.4 591.1,749.7z" fill="url(#g336)"/>
<path d="M1070.4,516.9 1112.4,513.5 1136.8,481.2 1095,485.5z" fill="url(#g337)"/>
<path d="M1003.9,553.8 1045.5,551.4 1070.4,516.9 1028.9,520.3z" fill="url(#g338)"/>
<path d="M937.2,591.8 978.5,590.4 1003.9,553.8 962.7,556.1z" fill="url(#g339)"/>
<path d="M870.4,630.9 911.4,630.5 937.2,591.8 896.4,593.1z" fill="url(#g340)"/>
<path d="M803.6,671.2 844.1,671.8 870.4,630.9 830,631.3z" fill="url(#g341)"/>
<path d="M1245.7,441.3 1288.9,435.8 1312.2,406.9 1269.1,413.3z" fill="url(#g342)"/>
<path d="M736.6,712.6 776.8,714.2 803.6,671.2 763.4,670.5z" fill="url(#g343)"/>
<path d="M1179.1,476.8 1222,472.4 1245.7,441.3 1203.1,446.7z" fill="url(#g344)"/>
<path d="M669.6,755.1 709.5,757.8 736.6,712.6 696.8,710.9z" fill="url(#g345)"/>
<path d="M602.5,798.7 642,802.4 669.6,755.1 630.1,752.4z" fill="url(#g346)"/>
<path d="M1112.4,513.5 1154.8,510.1 1179.1,476.8 1136.8,481.2z" fill="url(#g347)"/>
<path d="M1045.5,551.4 1087.6,549 1112.4,513.5 1070.4,516.9z" fill="url(#g348)"/>
<path d="M978.5,590.4 1020.2,589 1045.5,551.4 1003.9,553.8z" fill="url(#g349)"/>
<path d="M911.4,630.5 952.7,630.2 978.5,590.4 937.2,591.8z" fill="url(#g350)"/>
<path d="M844.1,671.8 885.2,672.5 911.4,630.5 870.4,630.9z" fill="url(#g351)"/>
<path d="M776.8,714.2 817.5,715.9 844.1,671.8 803.6,671.2z" fill="url(#g352)"/>
<path d="M709.5,757.8 749.8,760.5 776.8,714.2 736.6,712.6z" fill="url(#g353)"/>
<path d="M1222,472.4 1265.3,467.8 1288.9,435.8 1245.7,441.3z" fill="url(#g354)"/>
<path d="M642,802.4 682,806.1 709.5,757.8 669.6,755.1z" fill="url(#g355)"/>
<path d="M1154.8,510.1 1197.8,506.6 1222,472.4 1179.1,476.8z" fill="url(#g356)"/>
<path d="M1087.6,549 1130.2,546.5 1154.8,510.1 1112.4,513.5z" fill="url(#g357)"/>
<path d="M1020.2,589 1062.4,587.5 1087.6,549 1045.5,551.4z" fill="url(#g358)"/>
<path d="M952.7,630.2 994.6,629.7 1020.2,589 978.5,590.4z" fill="url(#g359)"/>
<path d="M885.2,672.5 926.7,673.1 952.7,630.2 911.4,630.5z" fill="url(#g360)"/>
<path d="M817.5,715.9 858.6,717.6 885.2,672.5 844.1,671.8z" fill="url(#g361)"/>
<path d="M749.8,760.5 790.6,763.2 817.5,715.9 776.8,714.2z" fill="url(#g362)"/>
<path d="M682,806.1 722.4,809.9 749.8,760.5 709.5,757.8z" fill="url(#g363)"/>
<path d="M1197.8,506.6 1241.3,503 1265.3,467.8 1222,472.4z" fill="url(#g364)"/>
<path d="M1130.2,546.5 1173.3,544 1197.8,506.6 1154.8,510.1z" fill="url(#g365)"/>
<path d="M1062.4,587.5 1105.1,586.1 1130.2,546.5 1087.6,549z" fill="url(#g366)"/>
<path d="M994.6,629.7 1036.9,629.3 1062.4,587.5 1020.2,589z" fill="url(#g367)"/>
<path d="M926.7,673.1 968.6,673.7 994.6,629.7 952.7,630.2z" fill="url(#g368)"/>
<path d="M858.6,717.6 900.2,719.2 926.7,673.1 885.2,672.5z" fill="url(#g369)"/>
<path d="M790.6,763.2 831.8,765.9 858.6,717.6 817.5,715.9z" fill="url(#g370)"/>
<path d="M722.4,809.9 763.3,813.7 790.6,763.2 749.8,760.5z" fill="url(#g371)"/>
<path d="M1173.3,544 1216.8,541.4 1241.3,503 1197.8,506.6z" fill="url(#g372)"/>
<path d="M1105.1,586.1 1148.3,584.5 1173.3,544 1130.2,546.5z" fill="url(#g373)"/>
<path d="M1036.9,629.3 1079.7,628.9 1105.1,586.1 1062.4,587.5z" fill="url(#g374)"/>
<path d="M968.6,673.7 1011.1,674.3 1036.9,629.3 994.6,629.7z" fill="url(#g375)"/>
<path d="M900.2,719.2 942.3,720.9 968.6,673.7 926.7,673.1z" fill="url(#g376)"/>
<path d="M831.8,765.9 873.5,768.7 900.2,719.2 858.6,717.6z" fill="url(#g377)"/>
<path d="M763.3,813.7 804.7,817.5 831.8,765.9 790.6,763.2z" fill="url(#g378)"/>
<path d="M1148.3,584.5 1192.1,583 1216.8,541.4 1173.3,544z" fill="url(#g379)"/>
<path d="M1079.7,628.9 1123.1,628.4 1148.3,584.5 1105.1,586.1z" fill="url(#g380)"/>
<path d="M1011.1,674.3 1054,674.9 1079.7,628.9 1036.9,629.3z" fill="url(#g381)"/>
<path d="M942.3,720.9 984.9,722.6 1011.1,674.3 968.6,673.7z" fill="url(#g382)"/>
<path d="M873.5,768.7 915.7,771.4 942.3,720.9 900.2,719.2z" fill="url(#g383)"/>
<path d="M804.7,817.5 846.5,821.3 873.5,768.7 831.8,765.9z" fill="url(#g384)"/>
<path d="M1123.1,628.4 1166.9,627.9 1192.1,583 1148.3,584.5z" fill="url(#g385)"/>
<path d="M1054,674.9 1097.4,675.5 1123.1,628.4 1079.7,628.9z" fill="url(#g386)"/>
<path d="M984.9,722.6 1027.9,724.3 1054,674.9 1011.1,674.3z" fill="url(#g387)"/>
<path d="M915.7,771.4 958.3,774.2 984.9,722.6 942.3,720.9z" fill="url(#g388)"/>
<path d="M846.5,821.3 888.7,825.2 915.7,771.4 873.5,768.7z" fill="url(#g389)"/>
<path d="M1097.4,675.5 1141.4,676.1 1166.9,627.9 1123.1,628.4z" fill="url(#g390)"/>
<path d="M1027.9,724.3 1071.4,726 1097.4,675.5 1054,674.9z" fill="url(#g391)"/>
<path d="M958.3,774.2 1001.5,777 1027.9,724.3 984.9,722.6z" fill="url(#g392)"/>
<path d="M888.7,825.2 931.5,829.1 958.3,774.2 915.7,771.4z" fill="url(#g393)"/>
<path d="M1071.4,726 1115.5,727.6 1141.4,676.1 1097.4,675.5z" fill="url(#g394)"/>
<path d="M1001.5,777 1045.1,779.8 1071.4,726 1027.9,724.3z" fill="url(#g395)"/>
<path d="M931.5,829.1 974.7,833 1001.5,777 958.3,774.2z" fill="url(#g396)"/>
<path d="M1045.1,779.8 1089.3,782.6 1115.5,727.6 1071.4,726z" fill="url(#g397)"/>
<path d="M974.7,833 1018.5,837 1045.1,779.8 1001.5,777z" fill="url(#g398)"/>
<path d="M1018.5,837 1062.7,841 1089.3,782.6 1045.1,779.8z" fill="url(#g399)"/>
</g>
<line x1="1313" y1="374.6" x2="1312.2" y2="406.9" stroke="#000" stroke-width="2.5"/><circle cx="1313" cy="374.6" r="12.1" fill="#be0000" stroke="#000" stroke-width="2.4"/>
<circle cx="270" cy="904.2" r="4.8" fill="#000"/>
<circle cx="265.4" cy="791.9" r="4.8" fill="#000"/>
<circle cx="260.8" cy="679.7" r="4.8" fill="#000"/>
<circle cx="256.2" cy="567.4" r="4.8" fill="#000"/>
<circle cx="251.7" cy="455.1" r="4.8" fill="#000"/>
<circle cx="247.1" cy="342.9" r="4.8" fill="#000"/>
<circle cx="242.5" cy="230.6" r="4.8" fill="#000"/>
<circle cx="279.5" cy="1115" r="4.8" fill="#000"/>
<circle cx="409.2" cy="1150.2" r="4.8" fill="#000"/>
<circle cx="538.9" cy="1185.5" r="4.8" fill="#000"/>
<circle cx="668.6" cy="1220.7" r="4.8" fill="#000"/>
<circle cx="798.3" cy="1255.9" r="4.8" fill="#000"/>
<circle cx="928" cy="1291.2" r="4.8" fill="#000"/>
<circle cx="1057.7" cy="1326.4" r="4.8" fill="#000"/>
<circle cx="1120" cy="1280.9" r="4.8" fill="#000"/>
<circle cx="1182.3" cy="1235.5" r="4.8" fill="#000"/>
<circle cx="1244.6" cy="1190" r="4.8" fill="#000"/>
<circle cx="1306.9" cy="1144.6" r="4.8" fill="#000"/>
<circle cx="1369.2" cy="1099.1" r="4.8" fill="#000"/>
<circle cx="1431.5" cy="1053.7" r="4.8" fill="#000"/>
<circle cx="1493.8" cy="1008.2" r="4.8" fill="#000"/>
<g font-family="'Liberation Sans', 'DejaVu Sans', sans-serif" fill="#1a1a1a" stroke="#fff" stroke-width="0.6">
<text x="212.9" y="898.6" font-size="35" textLength="36.6" lengthAdjust="spacingAndGlyphs">20</text>
<text x="208.3" y="786.3" font-size="35" textLength="36.6" lengthAdjust="spacingAndGlyphs">25</text>
<text x="203.7" y="674.1" font-size="35" textLength="36.6" lengthAdjust="spacingAndGlyphs">30</text>
<text x="199.2" y="561.8" font-size="35" textLength="36.6" lengthAdjust="spacingAndGlyphs">35</text>
<text x="194.6" y="449.5" font-size="35" textLength="36.6" lengthAdjust="spacingAndGlyphs">40</text>
<text x="190" y="337.3" font-size="35" textLength="36.6" lengthAdjust="spacingAndGlyphs">45</text>
<text x="185.4" y="225" font-size="35" textLength="36.6" lengthAdjust="spacingAndGlyphs">50</text>
<text x="224" y="1154" font-size="35" textLength="36.6" lengthAdjust="spacingAndGlyphs">80</text>
<text x="353.7" y="1189.2" font-size="35" textLength="36.6" lengthAdjust="spacingAndGlyphs">70</text>
<text x="483.4" y="1224.5" font-size="35" textLength="36.6" lengthAdjust="spacingAndGlyphs">60</text>
<text x="613.1" y="1259.7" font-size="35" textLength="36.6" lengthAdjust="spacingAndGlyphs">50</text>
<text x="742.8" y="1294.9" font-size="35" textLength="36.6" lengthAdjust="spacingAndGlyphs">40</text>
<text x="872.5" y="1330.2" font-size="35" textLength="36.6" lengthAdjust="spacingAndGlyphs">30</text>
<text x="1002.2" y="1365.4" font-size="35" textLength="36.6" lengthAdjust="spacingAndGlyphs">20</text>
<text x="1076.2" y="1364.9" font-size="35" textLength="36.6" lengthAdjust="spacingAndGlyphs">30</text>
<text x="1138.5" y="1319.4" font-size="35" textLength="36.6" lengthAdjust="spacingAndGlyphs">60</text>
<text x="1200.8" y="1274" font-size="35" textLength="36.6" lengthAdjust="spacingAndGlyphs">90</text>
<text x="1262.6" y="1228.5" font-size="35" textLength="56.5" lengthAdjust="spacingAndGlyphs">120</text>
<text x="1324.9" y="1183.1" font-size="35" textLength="56.5" lengthAdjust="spacingAndGlyphs">150</text>
<text x="1387.2" y="1137.6" font-size="35" textLength="56.5" lengthAdjust="spacingAndGlyphs">180</text>
<text x="1449.5" y="1092.2" font-size="35" textLength="56.5" lengthAdjust="spacingAndGlyphs">210</text>
<text x="1511.8" y="1046.7" font-size="35" textLength="56.5" lengthAdjust="spacingAndGlyphs">240</text>
<text x="145" y="88.8" font-size="57" textLength="384.1" lengthAdjust="spacingAndGlyphs">A: Water = 40%</text>
<text x="206.6" y="1345.2" font-size="57" textLength="457.1" lengthAdjust="spacingAndGlyphs">C: S/L ratio (mg/g)</text>
<text x="1376.1" y="1292.2" font-size="57" textLength="335.2" lengthAdjust="spacingAndGlyphs">B: Time (min)</text>
<text x="80.3" y="928" font-size="57" textLength="378.4" lengthAdjust="spacingAndGlyphs" transform="rotate(-90 80.3 928)">TFC (mgGAE/g)</text>
</g>
</svg>
</body></html>
